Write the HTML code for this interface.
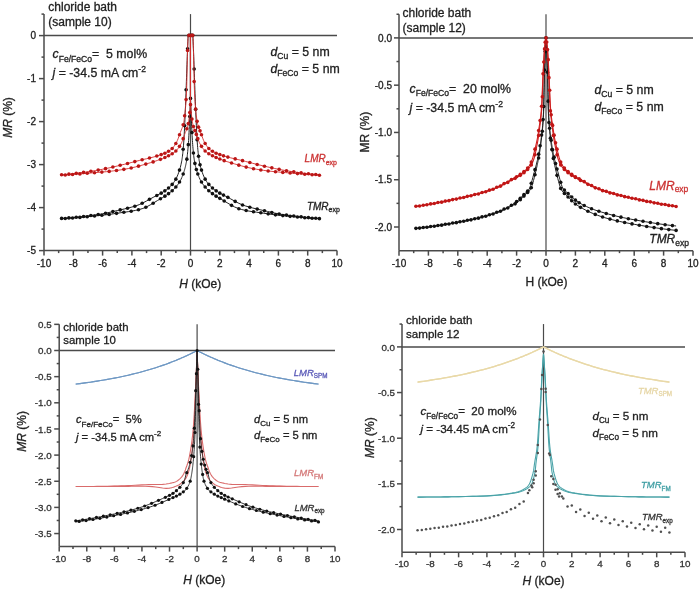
<!DOCTYPE html>
<html><head><meta charset="utf-8"><style>
html,body{margin:0;padding:0;background:#fff;width:700px;height:589px;overflow:hidden}
svg{display:block;font-family:"Liberation Sans", sans-serif;filter:blur(0.35px)}
</style></head><body>
<svg width="700" height="589" viewBox="0 0 700 589">
<rect width="700" height="589" fill="#fff"/>
<g stroke="#4a4a4a" stroke-width="1.5" fill="none"><line x1="44" y1="14.1" x2="44" y2="250.6"/><line x1="44" y1="250.6" x2="337" y2="250.6"/><line x1="44" y1="35.6" x2="337" y2="35.6"/><line x1="190.5" y1="14.1" x2="190.5" y2="250.6" stroke-width="1.2"/><line x1="39" y1="35.6" x2="44" y2="35.6"/><line x1="39" y1="78.6" x2="44" y2="78.6"/><line x1="39" y1="121.6" x2="44" y2="121.6"/><line x1="39" y1="164.6" x2="44" y2="164.6"/><line x1="39" y1="207.6" x2="44" y2="207.6"/><line x1="39" y1="250.6" x2="44" y2="250.6"/><line x1="41.5" y1="14.1" x2="44" y2="14.1"/><line x1="41.5" y1="57.1" x2="44" y2="57.1"/><line x1="41.5" y1="100.1" x2="44" y2="100.1"/><line x1="41.5" y1="143.1" x2="44" y2="143.1"/><line x1="41.5" y1="186.1" x2="44" y2="186.1"/><line x1="41.5" y1="229.1" x2="44" y2="229.1"/><line x1="44" y1="250.6" x2="44" y2="255.6"/><line x1="73.3" y1="250.6" x2="73.3" y2="255.6"/><line x1="102.6" y1="250.6" x2="102.6" y2="255.6"/><line x1="131.9" y1="250.6" x2="131.9" y2="255.6"/><line x1="161.2" y1="250.6" x2="161.2" y2="255.6"/><line x1="190.5" y1="250.6" x2="190.5" y2="255.6"/><line x1="219.8" y1="250.6" x2="219.8" y2="255.6"/><line x1="249.1" y1="250.6" x2="249.1" y2="255.6"/><line x1="278.4" y1="250.6" x2="278.4" y2="255.6"/><line x1="307.7" y1="250.6" x2="307.7" y2="255.6"/><line x1="337" y1="250.6" x2="337" y2="255.6"/><line x1="58.65" y1="250.6" x2="58.65" y2="253.1"/><line x1="87.95" y1="250.6" x2="87.95" y2="253.1"/><line x1="117.25" y1="250.6" x2="117.25" y2="253.1"/><line x1="146.55" y1="250.6" x2="146.55" y2="253.1"/><line x1="175.85" y1="250.6" x2="175.85" y2="253.1"/><line x1="205.15" y1="250.6" x2="205.15" y2="253.1"/><line x1="234.45" y1="250.6" x2="234.45" y2="253.1"/><line x1="263.75" y1="250.6" x2="263.75" y2="253.1"/><line x1="293.05" y1="250.6" x2="293.05" y2="253.1"/><line x1="322.35" y1="250.6" x2="322.35" y2="253.1"/></g><g fill="#222" font-size="10" stroke="#222" stroke-width="0.3"><text x="36" y="39.2" text-anchor="end">0</text><text x="36" y="82.2" text-anchor="end">-1</text><text x="36" y="125.2" text-anchor="end">-2</text><text x="36" y="168.2" text-anchor="end">-3</text><text x="36" y="211.2" text-anchor="end">-4</text><text x="36" y="254.2" text-anchor="end">-5</text><text x="44" y="266.6" text-anchor="middle">-10</text><text x="73.3" y="266.6" text-anchor="middle">-8</text><text x="102.6" y="266.6" text-anchor="middle">-6</text><text x="131.9" y="266.6" text-anchor="middle">-4</text><text x="161.2" y="266.6" text-anchor="middle">-2</text><text x="190.5" y="266.6" text-anchor="middle">0</text><text x="219.8" y="266.6" text-anchor="middle">2</text><text x="249.1" y="266.6" text-anchor="middle">4</text><text x="278.4" y="266.6" text-anchor="middle">6</text><text x="307.7" y="266.6" text-anchor="middle">8</text><text x="337" y="266.6" text-anchor="middle">10</text></g><path d="M61.58,218.42 L62.31,218.38 L65.97,218.13 L69.64,217.85 L73.30,217.53 L76.96,217.18 L80.62,216.79 L84.29,216.38 L87.95,215.94 L91.61,215.47 L95.28,214.98 L98.94,214.45 L102.60,213.81 L106.26,213.08 L109.92,212.27 L113.59,211.43 L117.25,210.58 L120.91,209.75 L124.58,208.90 L128.24,208.01 L131.90,207.04 L135.56,205.95 L139.22,204.65 L142.89,202.95 L146.55,200.99 L150.21,198.94 L153.88,196.96 L157.54,195.09 L161.20,193.13 L161.93,192.71 L162.66,192.27 L163.40,191.82 L164.13,191.35 L164.86,190.86 L165.59,190.35 L166.33,189.82 L167.06,189.27 L167.79,188.69 L168.53,188.07 L169.26,187.43 L169.99,186.74 L170.72,186.02 L171.45,185.24 L172.19,184.41 L172.92,183.52 L173.65,182.57 L174.38,181.55 L175.12,180.44 L175.85,179.15 L176.58,177.69 L177.31,176.05 L178.05,174.24 L178.78,172.26 L179.51,170.11 L180.25,167.65 L180.98,164.71 L181.71,161.12 L181.86,160.31 L182.00,159.43 L182.15,158.46 L182.30,157.40 L182.44,156.25 L182.59,155.02 L182.74,153.69 L182.88,152.29 L183.03,150.79 L183.18,149.22 L183.32,147.57 L183.47,145.83 L183.61,144.02 L183.76,142.04 L183.91,139.80 L184.05,137.34 L184.20,134.68 L184.35,131.85 L184.49,128.86 L184.64,125.76 L184.79,122.57 L184.93,119.30 L185.08,116.00 L185.23,112.68 L185.37,109.24 L185.52,105.61 L185.67,101.81 L185.81,97.87 L185.96,93.82 L186.10,89.70 L186.25,85.54 L186.40,81.38 L186.54,77.24 L186.69,73.15 L186.84,69.02 L186.98,64.78 L187.13,60.55 L187.28,56.43 L187.42,52.53 L187.57,48.84 L187.72,45.27 L187.86,41.82 L188.01,38.51 L188.16,35.35 L188.30,35.35 L188.45,35.35 L188.60,35.35 L188.74,35.36 L188.89,35.36 L189.04,35.36 L189.18,35.37 L189.33,35.37 L189.47,35.37 L189.62,35.38 L189.77,35.38 L189.91,35.38 L190.06,35.38 L190.21,35.39 L190.35,35.39 L190.50,98.38 L190.65,102.33 L190.79,106.14 L190.94,109.78 L191.09,113.22 L191.23,116.55 L191.38,119.86 L191.53,123.13 L191.67,126.33 L191.82,129.44 L191.96,132.43 L192.11,135.27 L192.26,137.94 L192.40,140.41 L192.55,142.65 L192.70,144.64 L192.84,146.46 L192.99,148.20 L193.14,149.86 L193.28,151.44 L193.43,152.94 L193.58,154.36 L193.72,155.69 L193.87,156.94 L194.02,158.09 L194.16,159.16 L194.31,160.14 L194.46,161.02 L194.60,161.84 L194.75,162.63 L194.90,163.39 L195.04,164.11 L195.19,164.81 L195.33,165.48 L195.48,166.12 L195.63,166.74 L195.77,167.33 L195.92,167.91 L196.07,168.46 L196.21,168.99 L196.36,169.51 L196.51,170.01 L196.65,170.49 L196.80,170.96 L196.95,171.42 L197.09,171.87 L197.24,172.31 L197.39,172.74 L197.53,173.16 L197.68,173.58 L197.82,173.99 L197.97,174.40 L198.12,174.79 L198.26,175.19 L198.41,175.57 L198.56,175.95 L198.70,176.32 L198.85,176.69 L199.00,177.05 L199.14,177.40 L199.29,177.74 L200.02,179.36 L200.75,180.81 L201.49,182.07 L202.22,183.19 L202.95,184.24 L203.69,185.22 L204.42,186.15 L205.15,187.02 L205.88,187.84 L206.62,188.61 L207.35,189.34 L208.08,190.03 L208.81,190.70 L209.55,191.33 L210.28,191.95 L211.01,192.53 L211.74,193.10 L212.47,193.65 L213.21,194.18 L213.94,194.69 L214.67,195.18 L215.41,195.66 L216.14,196.13 L216.87,196.59 L217.60,197.04 L218.34,197.48 L219.07,197.92 L219.80,198.35 L223.46,200.51 L227.12,202.74 L230.79,204.92 L234.45,206.88 L238.11,208.45 L241.78,209.54 L245.44,210.40 L249.10,211.10 L252.76,211.68 L256.43,212.20 L260.09,212.70 L263.75,213.23 L267.41,213.77 L271.07,214.29 L274.74,214.77 L278.40,215.18 L282.06,215.53 L285.73,215.90 L289.39,216.27 L293.05,216.64 L296.71,217.00 L300.38,217.34 L304.04,217.66 L307.70,217.96 L311.36,218.22 L315.02,218.44 L318.69,218.63 L319.42,218.66" fill="none" stroke="#222" stroke-width="1.0" stroke-opacity="1.0" stroke-linejoin="round"/><path d="M61.58,218.66 L62.31,218.63 L65.97,218.44 L69.64,218.22 L73.30,217.96 L76.96,217.66 L80.62,217.34 L84.29,217.00 L87.95,216.64 L91.61,216.27 L95.28,215.90 L98.94,215.53 L102.60,215.18 L106.26,214.77 L109.92,214.29 L113.59,213.77 L117.25,213.23 L120.91,212.70 L124.58,212.20 L128.24,211.68 L131.90,211.10 L135.56,210.40 L139.22,209.54 L142.89,208.45 L146.55,206.88 L150.21,204.92 L153.88,202.74 L157.54,200.51 L161.20,198.35 L161.93,197.92 L162.66,197.48 L163.40,197.04 L164.13,196.59 L164.86,196.13 L165.59,195.66 L166.33,195.18 L167.06,194.69 L167.79,194.18 L168.53,193.65 L169.26,193.10 L169.99,192.53 L170.72,191.95 L171.45,191.33 L172.19,190.70 L172.92,190.03 L173.65,189.34 L174.38,188.61 L175.12,187.84 L175.85,187.02 L176.58,186.15 L177.31,185.22 L178.05,184.24 L178.78,183.19 L179.51,182.07 L180.25,180.81 L180.98,179.36 L181.71,177.74 L181.86,177.40 L182.00,177.05 L182.15,176.69 L182.30,176.32 L182.44,175.95 L182.59,175.57 L182.74,175.19 L182.88,174.79 L183.03,174.40 L183.18,173.99 L183.32,173.58 L183.47,173.16 L183.61,172.74 L183.76,172.31 L183.91,171.87 L184.05,171.42 L184.20,170.96 L184.35,170.49 L184.49,170.01 L184.64,169.51 L184.79,168.99 L184.93,168.46 L185.08,167.91 L185.23,167.33 L185.37,166.74 L185.52,166.12 L185.67,165.48 L185.81,164.81 L185.96,164.11 L186.10,163.39 L186.25,162.63 L186.40,161.84 L186.54,161.02 L186.69,160.14 L186.84,159.16 L186.98,158.09 L187.13,156.94 L187.28,155.69 L187.42,154.36 L187.57,152.94 L187.72,151.44 L187.86,149.86 L188.01,148.20 L188.16,146.46 L188.30,144.64 L188.45,142.65 L188.60,140.41 L188.74,137.94 L188.89,135.27 L189.04,132.43 L189.18,129.44 L189.33,126.33 L189.47,123.13 L189.62,119.86 L189.77,116.55 L189.91,113.22 L190.06,109.78 L190.21,106.14 L190.35,102.33 L190.50,35.39 L190.65,35.39 L190.79,35.39 L190.94,35.38 L191.09,35.38 L191.23,35.38 L191.38,35.38 L191.53,35.37 L191.67,35.37 L191.82,35.37 L191.96,35.36 L192.11,35.36 L192.26,35.36 L192.40,35.35 L192.55,35.35 L192.70,35.35 L192.84,35.35 L192.99,38.51 L193.14,41.82 L193.28,45.27 L193.43,48.84 L193.58,52.53 L193.72,56.43 L193.87,60.55 L194.02,64.78 L194.16,69.02 L194.31,73.15 L194.46,77.24 L194.60,81.38 L194.75,85.54 L194.90,89.70 L195.04,93.82 L195.19,97.87 L195.33,101.81 L195.48,105.61 L195.63,109.24 L195.77,112.68 L195.92,116.00 L196.07,119.30 L196.21,122.57 L196.36,125.76 L196.51,128.86 L196.65,131.85 L196.80,134.68 L196.95,137.34 L197.09,139.80 L197.24,142.04 L197.39,144.02 L197.53,145.83 L197.68,147.57 L197.82,149.22 L197.97,150.79 L198.12,152.29 L198.26,153.69 L198.41,155.02 L198.56,156.25 L198.70,157.40 L198.85,158.46 L199.00,159.43 L199.14,160.31 L199.29,161.12 L200.02,164.71 L200.75,167.65 L201.49,170.11 L202.22,172.26 L202.95,174.24 L203.69,176.05 L204.42,177.69 L205.15,179.15 L205.88,180.44 L206.62,181.55 L207.35,182.57 L208.08,183.52 L208.81,184.41 L209.55,185.24 L210.28,186.02 L211.01,186.74 L211.74,187.43 L212.47,188.07 L213.21,188.69 L213.94,189.27 L214.67,189.82 L215.41,190.35 L216.14,190.86 L216.87,191.35 L217.60,191.82 L218.34,192.27 L219.07,192.71 L219.80,193.13 L223.46,195.09 L227.12,196.96 L230.79,198.94 L234.45,200.99 L238.11,202.95 L241.78,204.65 L245.44,205.95 L249.10,207.04 L252.76,208.01 L256.43,208.90 L260.09,209.75 L263.75,210.58 L267.41,211.43 L271.07,212.27 L274.74,213.08 L278.40,213.81 L282.06,214.45 L285.73,214.98 L289.39,215.47 L293.05,215.94 L296.71,216.38 L300.38,216.79 L304.04,217.18 L307.70,217.53 L311.36,217.85 L315.02,218.13 L318.69,218.38 L319.42,218.42" fill="none" stroke="#222" stroke-width="1.0" stroke-opacity="1.0" stroke-linejoin="round"/><g fill="#111"><circle cx="61.58" cy="218.42" r="1.8"/><circle cx="68.90" cy="217.91" r="1.8"/><circle cx="76.23" cy="217.25" r="1.8"/><circle cx="83.56" cy="216.46" r="1.8"/><circle cx="90.88" cy="215.57" r="1.8"/><circle cx="98.21" cy="214.56" r="1.8"/><circle cx="105.53" cy="213.23" r="1.8"/><circle cx="112.86" cy="211.60" r="1.8"/><circle cx="120.18" cy="209.92" r="1.8"/><circle cx="127.51" cy="208.19" r="1.8"/><circle cx="134.83" cy="206.18" r="1.8"/><circle cx="142.16" cy="203.31" r="1.8"/><circle cx="149.48" cy="199.35" r="1.8"/><circle cx="156.81" cy="195.46" r="1.8"/><circle cx="161.20" cy="193.13" r="1.8"/><circle cx="164.86" cy="190.86" r="1.8"/><circle cx="168.53" cy="188.07" r="1.8"/><circle cx="172.19" cy="184.41" r="1.8"/><circle cx="175.85" cy="179.15" r="1.8"/><circle cx="179.51" cy="170.11" r="1.8"/><circle cx="183.18" cy="149.22" r="1.8"/><circle cx="184.64" cy="125.76" r="1.8"/><circle cx="186.10" cy="89.70" r="1.8"/><circle cx="187.57" cy="48.84" r="1.8"/><circle cx="189.04" cy="35.36" r="1.8"/><circle cx="190.50" cy="98.38" r="1.8"/><circle cx="191.96" cy="132.43" r="1.8"/><circle cx="193.43" cy="152.94" r="1.8"/><circle cx="194.90" cy="163.39" r="1.8"/><circle cx="196.36" cy="169.51" r="1.8"/><circle cx="197.82" cy="173.99" r="1.8"/><circle cx="201.49" cy="182.07" r="1.8"/><circle cx="205.15" cy="187.02" r="1.8"/><circle cx="208.81" cy="190.70" r="1.8"/><circle cx="212.47" cy="193.65" r="1.8"/><circle cx="216.14" cy="196.13" r="1.8"/><circle cx="219.80" cy="198.35" r="1.8"/><circle cx="224.19" cy="200.95" r="1.8"/><circle cx="231.52" cy="205.33" r="1.8"/><circle cx="238.84" cy="208.70" r="1.8"/><circle cx="246.17" cy="210.56" r="1.8"/><circle cx="253.50" cy="211.79" r="1.8"/><circle cx="260.82" cy="212.80" r="1.8"/><circle cx="268.15" cy="213.87" r="1.8"/><circle cx="275.47" cy="214.86" r="1.8"/><circle cx="282.80" cy="215.61" r="1.8"/><circle cx="290.12" cy="216.34" r="1.8"/><circle cx="297.45" cy="217.07" r="1.8"/><circle cx="304.77" cy="217.72" r="1.8"/><circle cx="312.10" cy="218.27" r="1.8"/><circle cx="319.42" cy="218.66" r="1.8"/></g><g fill="#111"><circle cx="65.24" cy="218.48" r="1.8"/><circle cx="72.57" cy="218.01" r="1.8"/><circle cx="79.89" cy="217.41" r="1.8"/><circle cx="87.22" cy="216.71" r="1.8"/><circle cx="94.54" cy="215.97" r="1.8"/><circle cx="101.87" cy="215.25" r="1.8"/><circle cx="109.19" cy="214.39" r="1.8"/><circle cx="116.52" cy="213.34" r="1.8"/><circle cx="123.84" cy="212.30" r="1.8"/><circle cx="131.17" cy="211.23" r="1.8"/><circle cx="138.49" cy="209.73" r="1.8"/><circle cx="145.82" cy="207.23" r="1.8"/><circle cx="153.14" cy="203.18" r="1.8"/><circle cx="160.47" cy="198.78" r="1.8"/><circle cx="164.86" cy="196.13" r="1.8"/><circle cx="168.53" cy="193.65" r="1.8"/><circle cx="172.19" cy="190.70" r="1.8"/><circle cx="175.85" cy="187.02" r="1.8"/><circle cx="179.51" cy="182.07" r="1.8"/><circle cx="183.18" cy="173.99" r="1.8"/><circle cx="186.84" cy="159.16" r="1.8"/><circle cx="188.30" cy="144.64" r="1.8"/><circle cx="189.77" cy="116.55" r="1.8"/><circle cx="191.23" cy="35.38" r="1.8"/><circle cx="192.70" cy="35.35" r="1.8"/><circle cx="194.16" cy="69.02" r="1.8"/><circle cx="195.63" cy="109.24" r="1.8"/><circle cx="197.09" cy="139.80" r="1.8"/><circle cx="198.56" cy="156.25" r="1.8"/><circle cx="200.02" cy="164.71" r="1.8"/><circle cx="201.49" cy="170.11" r="1.8"/><circle cx="205.15" cy="179.15" r="1.8"/><circle cx="208.81" cy="184.41" r="1.8"/><circle cx="212.47" cy="188.07" r="1.8"/><circle cx="216.14" cy="190.86" r="1.8"/><circle cx="219.80" cy="193.13" r="1.8"/><circle cx="223.46" cy="195.09" r="1.8"/><circle cx="227.86" cy="197.34" r="1.8"/><circle cx="235.18" cy="201.39" r="1.8"/><circle cx="242.51" cy="204.94" r="1.8"/><circle cx="249.83" cy="207.24" r="1.8"/><circle cx="257.16" cy="209.08" r="1.8"/><circle cx="264.48" cy="210.75" r="1.8"/><circle cx="271.81" cy="212.44" r="1.8"/><circle cx="279.13" cy="213.95" r="1.8"/><circle cx="286.46" cy="215.08" r="1.8"/><circle cx="293.78" cy="216.03" r="1.8"/><circle cx="301.11" cy="216.87" r="1.8"/><circle cx="308.43" cy="217.60" r="1.8"/><circle cx="315.76" cy="218.19" r="1.8"/></g><path d="M61.58,174.79 L62.31,174.73 L65.97,174.42 L69.64,174.07 L73.30,173.68 L76.96,173.25 L80.62,172.78 L84.29,172.28 L87.95,171.75 L91.61,171.18 L95.28,170.58 L98.94,169.95 L102.60,169.26 L106.26,168.51 L109.92,167.71 L113.59,166.87 L117.25,166.01 L120.91,165.14 L124.58,164.25 L128.24,163.33 L131.90,162.38 L135.56,161.42 L139.22,160.48 L142.89,159.59 L146.55,158.73 L150.21,157.86 L153.88,156.91 L157.54,155.84 L161.20,154.62 L161.93,154.36 L162.66,154.09 L163.40,153.81 L164.13,153.52 L164.86,153.20 L165.59,152.87 L166.33,152.52 L167.06,152.15 L167.79,151.75 L168.53,151.32 L169.26,150.86 L169.99,150.37 L170.72,149.84 L171.45,149.22 L172.19,148.50 L172.92,147.68 L173.65,146.75 L174.38,145.74 L175.12,144.64 L175.85,143.45 L176.58,142.18 L177.31,140.64 L178.05,138.82 L178.78,136.81 L179.51,134.74 L180.25,132.69 L180.98,130.84 L181.71,129.08 L181.86,128.72 L182.00,128.34 L182.15,127.95 L182.30,127.55 L182.44,127.13 L182.59,126.70 L182.74,126.24 L182.88,125.75 L183.03,125.24 L183.18,124.71 L183.32,124.14 L183.47,123.54 L183.61,122.90 L183.76,122.19 L183.91,121.35 L184.05,120.41 L184.20,119.37 L184.35,118.25 L184.49,117.06 L184.64,115.82 L184.79,114.52 L184.93,113.19 L185.08,111.84 L185.23,110.48 L185.37,109.08 L185.52,107.59 L185.67,105.93 L185.81,104.04 L185.96,101.93 L186.10,99.60 L186.25,96.99 L186.40,94.04 L186.54,90.68 L186.69,86.86 L186.84,81.60 L186.98,74.74 L187.13,67.50 L187.28,61.08 L187.42,55.61 L187.57,50.55 L187.72,46.04 L187.86,42.03 L188.01,38.43 L188.16,35.30 L188.30,35.30 L188.45,35.30 L188.60,35.31 L188.74,35.31 L188.89,35.31 L189.04,35.32 L189.18,35.32 L189.33,35.32 L189.47,35.33 L189.62,35.33 L189.77,35.33 L189.91,35.33 L190.06,35.34 L190.21,35.34 L190.35,35.34 L190.50,104.65 L190.65,106.55 L190.79,108.21 L190.94,109.71 L191.09,111.12 L191.23,112.49 L191.38,113.84 L191.53,115.18 L191.67,116.48 L191.82,117.74 L191.96,118.93 L192.11,120.06 L192.26,121.10 L192.40,122.05 L192.55,122.89 L192.70,123.62 L192.84,124.26 L192.99,124.87 L193.14,125.45 L193.28,125.99 L193.43,126.51 L193.58,127.00 L193.72,127.46 L193.87,127.91 L194.02,128.34 L194.16,128.75 L194.31,129.14 L194.46,129.52 L194.60,129.90 L194.75,130.26 L194.90,130.62 L195.04,130.98 L195.19,131.34 L195.33,131.70 L195.48,132.06 L195.63,132.43 L195.77,132.80 L195.92,133.19 L196.07,133.59 L196.21,134.00 L196.36,134.42 L196.51,134.84 L196.65,135.26 L196.80,135.68 L196.95,136.11 L197.09,136.53 L197.24,136.96 L197.39,137.38 L197.53,137.80 L197.68,138.22 L197.82,138.64 L197.97,139.05 L198.12,139.45 L198.26,139.85 L198.41,140.25 L198.56,140.63 L198.70,141.00 L198.85,141.37 L199.00,141.73 L199.14,142.07 L199.29,142.40 L200.02,143.86 L200.75,145.14 L201.49,146.35 L202.22,147.47 L202.95,148.50 L203.69,149.44 L204.42,150.28 L205.15,151.02 L205.88,151.66 L206.62,152.23 L207.35,152.77 L208.08,153.28 L208.81,153.76 L209.55,154.22 L210.28,154.65 L211.01,155.06 L211.74,155.45 L212.47,155.82 L213.21,156.18 L213.94,156.53 L214.67,156.86 L215.41,157.19 L216.14,157.51 L216.87,157.83 L217.60,158.14 L218.34,158.45 L219.07,158.75 L219.80,159.05 L223.46,160.41 L227.12,161.64 L230.79,162.78 L234.45,163.87 L238.11,164.93 L241.78,165.96 L245.44,166.92 L249.10,167.79 L252.76,168.56 L256.43,169.22 L260.09,169.83 L263.75,170.37 L267.41,170.87 L271.07,171.30 L274.74,171.69 L278.40,172.02 L282.06,172.33 L285.73,172.63 L289.39,172.93 L293.05,173.24 L296.71,173.55 L300.38,173.85 L304.04,174.15 L307.70,174.43 L311.36,174.70 L315.02,174.95 L318.69,175.17 L319.42,175.21" fill="none" stroke="#d83030" stroke-width="0.9" stroke-opacity="1.0" stroke-linejoin="round"/><path d="M61.58,175.21 L62.31,175.17 L65.97,174.95 L69.64,174.70 L73.30,174.43 L76.96,174.15 L80.62,173.85 L84.29,173.55 L87.95,173.24 L91.61,172.93 L95.28,172.63 L98.94,172.33 L102.60,172.02 L106.26,171.69 L109.92,171.30 L113.59,170.87 L117.25,170.37 L120.91,169.83 L124.58,169.22 L128.24,168.56 L131.90,167.79 L135.56,166.92 L139.22,165.96 L142.89,164.93 L146.55,163.87 L150.21,162.78 L153.88,161.64 L157.54,160.41 L161.20,159.05 L161.93,158.75 L162.66,158.45 L163.40,158.14 L164.13,157.83 L164.86,157.51 L165.59,157.19 L166.33,156.86 L167.06,156.53 L167.79,156.18 L168.53,155.82 L169.26,155.45 L169.99,155.06 L170.72,154.65 L171.45,154.22 L172.19,153.76 L172.92,153.28 L173.65,152.77 L174.38,152.23 L175.12,151.66 L175.85,151.02 L176.58,150.28 L177.31,149.44 L178.05,148.50 L178.78,147.47 L179.51,146.35 L180.25,145.14 L180.98,143.86 L181.71,142.40 L181.86,142.07 L182.00,141.73 L182.15,141.37 L182.30,141.00 L182.44,140.63 L182.59,140.25 L182.74,139.85 L182.88,139.45 L183.03,139.05 L183.18,138.64 L183.32,138.22 L183.47,137.80 L183.61,137.38 L183.76,136.96 L183.91,136.53 L184.05,136.11 L184.20,135.68 L184.35,135.26 L184.49,134.84 L184.64,134.42 L184.79,134.00 L184.93,133.59 L185.08,133.19 L185.23,132.80 L185.37,132.43 L185.52,132.06 L185.67,131.70 L185.81,131.34 L185.96,130.98 L186.10,130.62 L186.25,130.26 L186.40,129.90 L186.54,129.52 L186.69,129.14 L186.84,128.75 L186.98,128.34 L187.13,127.91 L187.28,127.46 L187.42,127.00 L187.57,126.51 L187.72,125.99 L187.86,125.45 L188.01,124.87 L188.16,124.26 L188.30,123.62 L188.45,122.89 L188.60,122.05 L188.74,121.10 L188.89,120.06 L189.04,118.93 L189.18,117.74 L189.33,116.48 L189.47,115.18 L189.62,113.84 L189.77,112.49 L189.91,111.12 L190.06,109.71 L190.21,108.21 L190.35,106.55 L190.50,35.35 L190.65,35.34 L190.79,35.34 L190.94,35.34 L191.09,35.33 L191.23,35.33 L191.38,35.33 L191.53,35.33 L191.67,35.32 L191.82,35.32 L191.96,35.32 L192.11,35.31 L192.26,35.31 L192.40,35.31 L192.55,35.30 L192.70,35.30 L192.84,35.30 L192.99,38.43 L193.14,42.03 L193.28,46.04 L193.43,50.55 L193.58,55.61 L193.72,61.08 L193.87,67.50 L194.02,74.74 L194.16,81.60 L194.31,86.86 L194.46,90.68 L194.60,94.04 L194.75,96.99 L194.90,99.60 L195.04,101.93 L195.19,104.04 L195.33,105.93 L195.48,107.59 L195.63,109.08 L195.77,110.48 L195.92,111.84 L196.07,113.19 L196.21,114.52 L196.36,115.82 L196.51,117.06 L196.65,118.25 L196.80,119.37 L196.95,120.41 L197.09,121.35 L197.24,122.19 L197.39,122.90 L197.53,123.54 L197.68,124.14 L197.82,124.71 L197.97,125.24 L198.12,125.75 L198.26,126.24 L198.41,126.70 L198.56,127.13 L198.70,127.55 L198.85,127.95 L199.00,128.34 L199.14,128.72 L199.29,129.08 L200.02,130.84 L200.75,132.69 L201.49,134.74 L202.22,136.81 L202.95,138.82 L203.69,140.64 L204.42,142.18 L205.15,143.45 L205.88,144.64 L206.62,145.74 L207.35,146.75 L208.08,147.68 L208.81,148.50 L209.55,149.22 L210.28,149.84 L211.01,150.37 L211.74,150.86 L212.47,151.32 L213.21,151.75 L213.94,152.15 L214.67,152.52 L215.41,152.87 L216.14,153.20 L216.87,153.52 L217.60,153.81 L218.34,154.09 L219.07,154.36 L219.80,154.62 L223.46,155.84 L227.12,156.91 L230.79,157.86 L234.45,158.73 L238.11,159.59 L241.78,160.48 L245.44,161.42 L249.10,162.38 L252.76,163.33 L256.43,164.25 L260.09,165.14 L263.75,166.01 L267.41,166.87 L271.07,167.71 L274.74,168.51 L278.40,169.26 L282.06,169.95 L285.73,170.58 L289.39,171.18 L293.05,171.75 L296.71,172.28 L300.38,172.78 L304.04,173.25 L307.70,173.68 L311.36,174.07 L315.02,174.42 L318.69,174.73 L319.42,174.79" fill="none" stroke="#d83030" stroke-width="0.9" stroke-opacity="1.0" stroke-linejoin="round"/><g fill="#bb1616"><circle cx="61.58" cy="174.79" r="1.8"/><circle cx="68.90" cy="174.14" r="1.8"/><circle cx="76.23" cy="173.34" r="1.8"/><circle cx="83.56" cy="172.38" r="1.8"/><circle cx="90.88" cy="171.29" r="1.8"/><circle cx="98.21" cy="170.08" r="1.8"/><circle cx="105.53" cy="168.67" r="1.8"/><circle cx="112.86" cy="167.04" r="1.8"/><circle cx="120.18" cy="165.31" r="1.8"/><circle cx="127.51" cy="163.52" r="1.8"/><circle cx="134.83" cy="161.61" r="1.8"/><circle cx="142.16" cy="159.76" r="1.8"/><circle cx="149.48" cy="158.03" r="1.8"/><circle cx="156.81" cy="156.07" r="1.8"/><circle cx="161.20" cy="154.62" r="1.8"/><circle cx="164.86" cy="153.20" r="1.8"/><circle cx="168.53" cy="151.32" r="1.8"/><circle cx="172.19" cy="148.50" r="1.8"/><circle cx="175.85" cy="143.45" r="1.8"/><circle cx="179.51" cy="134.74" r="1.8"/><circle cx="183.18" cy="124.71" r="1.8"/><circle cx="184.64" cy="115.82" r="1.8"/><circle cx="186.10" cy="99.60" r="1.8"/><circle cx="187.57" cy="50.55" r="1.8"/><circle cx="189.04" cy="35.32" r="1.8"/><circle cx="190.50" cy="104.65" r="1.8"/><circle cx="191.96" cy="118.93" r="1.8"/><circle cx="193.43" cy="126.51" r="1.8"/><circle cx="194.90" cy="130.62" r="1.8"/><circle cx="196.36" cy="134.42" r="1.8"/><circle cx="197.82" cy="138.64" r="1.8"/><circle cx="201.49" cy="146.35" r="1.8"/><circle cx="205.15" cy="151.02" r="1.8"/><circle cx="208.81" cy="153.76" r="1.8"/><circle cx="212.47" cy="155.82" r="1.8"/><circle cx="216.14" cy="157.51" r="1.8"/><circle cx="219.80" cy="159.05" r="1.8"/><circle cx="224.19" cy="160.67" r="1.8"/><circle cx="231.52" cy="163.00" r="1.8"/><circle cx="238.84" cy="165.14" r="1.8"/><circle cx="246.17" cy="167.10" r="1.8"/><circle cx="253.50" cy="168.70" r="1.8"/><circle cx="260.82" cy="169.94" r="1.8"/><circle cx="268.15" cy="170.96" r="1.8"/><circle cx="275.47" cy="171.76" r="1.8"/><circle cx="282.80" cy="172.39" r="1.8"/><circle cx="290.12" cy="173.00" r="1.8"/><circle cx="297.45" cy="173.61" r="1.8"/><circle cx="304.77" cy="174.21" r="1.8"/><circle cx="312.10" cy="174.75" r="1.8"/><circle cx="319.42" cy="175.21" r="1.8"/></g><g fill="#bb1616"><circle cx="65.24" cy="174.99" r="1.8"/><circle cx="72.57" cy="174.49" r="1.8"/><circle cx="79.89" cy="173.91" r="1.8"/><circle cx="87.22" cy="173.30" r="1.8"/><circle cx="94.54" cy="172.69" r="1.8"/><circle cx="101.87" cy="172.09" r="1.8"/><circle cx="109.19" cy="171.39" r="1.8"/><circle cx="116.52" cy="170.48" r="1.8"/><circle cx="123.84" cy="169.35" r="1.8"/><circle cx="131.17" cy="167.96" r="1.8"/><circle cx="138.49" cy="166.16" r="1.8"/><circle cx="145.82" cy="164.08" r="1.8"/><circle cx="153.14" cy="161.88" r="1.8"/><circle cx="160.47" cy="159.33" r="1.8"/><circle cx="164.86" cy="157.51" r="1.8"/><circle cx="168.53" cy="155.82" r="1.8"/><circle cx="172.19" cy="153.76" r="1.8"/><circle cx="175.85" cy="151.02" r="1.8"/><circle cx="179.51" cy="146.35" r="1.8"/><circle cx="183.18" cy="138.64" r="1.8"/><circle cx="186.84" cy="128.75" r="1.8"/><circle cx="188.30" cy="123.62" r="1.8"/><circle cx="189.77" cy="112.49" r="1.8"/><circle cx="191.23" cy="35.33" r="1.8"/><circle cx="192.70" cy="35.30" r="1.8"/><circle cx="194.16" cy="81.60" r="1.8"/><circle cx="195.63" cy="109.08" r="1.8"/><circle cx="197.09" cy="121.35" r="1.8"/><circle cx="198.56" cy="127.13" r="1.8"/><circle cx="200.02" cy="130.84" r="1.8"/><circle cx="201.49" cy="134.74" r="1.8"/><circle cx="205.15" cy="143.45" r="1.8"/><circle cx="208.81" cy="148.50" r="1.8"/><circle cx="212.47" cy="151.32" r="1.8"/><circle cx="216.14" cy="153.20" r="1.8"/><circle cx="219.80" cy="154.62" r="1.8"/><circle cx="223.46" cy="155.84" r="1.8"/><circle cx="227.86" cy="157.11" r="1.8"/><circle cx="235.18" cy="158.90" r="1.8"/><circle cx="242.51" cy="160.67" r="1.8"/><circle cx="249.83" cy="162.57" r="1.8"/><circle cx="257.16" cy="164.43" r="1.8"/><circle cx="264.48" cy="166.18" r="1.8"/><circle cx="271.81" cy="167.87" r="1.8"/><circle cx="279.13" cy="169.41" r="1.8"/><circle cx="286.46" cy="170.70" r="1.8"/><circle cx="293.78" cy="171.86" r="1.8"/><circle cx="301.11" cy="172.88" r="1.8"/><circle cx="308.43" cy="173.76" r="1.8"/><circle cx="315.76" cy="174.49" r="1.8"/></g><text x="48.3" y="10.7" font-size="12" fill="#222" stroke="#222" stroke-width="0.3">chloride bath</text><text x="48.3" y="25.7" font-size="12" fill="#222" stroke="#222" stroke-width="0.3">(sample 10)</text><text transform="translate(11.8,117.5) rotate(-90)" font-size="12" fill="#222" text-anchor="middle" stroke="#222" stroke-width="0.3"><tspan font-style="italic">MR</tspan> (%)</text><text x="200.3" y="288.3" font-size="12" fill="#222" text-anchor="middle" stroke="#222" stroke-width="0.3"><tspan font-style="italic">H</tspan> (kOe)</text><text x="52.5" y="57.9" font-size="12.3" fill="#222" stroke="#222" stroke-width="0.3"><tspan font-style="italic">c</tspan><tspan font-size="8.6" dy="3.6">Fe/FeCo</tspan><tspan dy="-3.6">=&#160; 5 mol%</tspan></text><text x="52.5" y="77.1" font-size="12.3" fill="#222" stroke="#222" stroke-width="0.3"><tspan font-style="italic">j</tspan> = -34.5 mA cm<tspan font-size="8.6" dy="-5">-2</tspan></text><text x="270.5" y="55.6" font-size="12.3" fill="#222" stroke="#222" stroke-width="0.3"><tspan font-style="italic">d</tspan><tspan font-size="8.6" dy="3">Cu</tspan><tspan dy="-3"> = 5 nm</tspan></text><text x="270.5" y="72.5" font-size="12.3" fill="#222" stroke="#222" stroke-width="0.3"><tspan font-style="italic">d</tspan><tspan font-size="8.6" dy="3">FeCo</tspan><tspan dy="-3"> = 5 nm</tspan></text><text x="304.6" y="162.3" font-size="10" fill="#cc3333" stroke="#cc3333" stroke-width="0.3"><tspan font-style="italic">LMR</tspan><tspan font-size="7" dy="2.5">exp</tspan></text><text x="306.9" y="209.6" font-size="10" fill="#222" stroke="#222" stroke-width="0.3"><tspan font-style="italic">TMR</tspan><tspan font-size="7" dy="2.5">exp</tspan></text><g stroke="#4a4a4a" stroke-width="1.5" fill="none"><line x1="399" y1="14.26" x2="399" y2="250.64"/><line x1="399" y1="250.64" x2="693" y2="250.64"/><line x1="399" y1="37.9" x2="693" y2="37.9"/><line x1="546" y1="14.26" x2="546" y2="250.64" stroke-width="1.2"/><line x1="394" y1="37.9" x2="399" y2="37.9"/><line x1="394" y1="85.17" x2="399" y2="85.17"/><line x1="394" y1="132.45" x2="399" y2="132.45"/><line x1="394" y1="179.72" x2="399" y2="179.72"/><line x1="394" y1="227" x2="399" y2="227"/><line x1="396.5" y1="14.26" x2="399" y2="14.26"/><line x1="396.5" y1="61.54" x2="399" y2="61.54"/><line x1="396.5" y1="108.81" x2="399" y2="108.81"/><line x1="396.5" y1="156.09" x2="399" y2="156.09"/><line x1="396.5" y1="203.36" x2="399" y2="203.36"/><line x1="399" y1="250.64" x2="399" y2="255.64"/><line x1="428.4" y1="250.64" x2="428.4" y2="255.64"/><line x1="457.8" y1="250.64" x2="457.8" y2="255.64"/><line x1="487.2" y1="250.64" x2="487.2" y2="255.64"/><line x1="516.6" y1="250.64" x2="516.6" y2="255.64"/><line x1="546" y1="250.64" x2="546" y2="255.64"/><line x1="575.4" y1="250.64" x2="575.4" y2="255.64"/><line x1="604.8" y1="250.64" x2="604.8" y2="255.64"/><line x1="634.2" y1="250.64" x2="634.2" y2="255.64"/><line x1="663.6" y1="250.64" x2="663.6" y2="255.64"/><line x1="693" y1="250.64" x2="693" y2="255.64"/><line x1="413.7" y1="250.64" x2="413.7" y2="253.14"/><line x1="443.1" y1="250.64" x2="443.1" y2="253.14"/><line x1="472.5" y1="250.64" x2="472.5" y2="253.14"/><line x1="501.9" y1="250.64" x2="501.9" y2="253.14"/><line x1="531.3" y1="250.64" x2="531.3" y2="253.14"/><line x1="560.7" y1="250.64" x2="560.7" y2="253.14"/><line x1="590.1" y1="250.64" x2="590.1" y2="253.14"/><line x1="619.5" y1="250.64" x2="619.5" y2="253.14"/><line x1="648.9" y1="250.64" x2="648.9" y2="253.14"/><line x1="678.3" y1="250.64" x2="678.3" y2="253.14"/></g><g fill="#222" font-size="10" stroke="#222" stroke-width="0.3"><text x="392" y="41.5" text-anchor="end">0.0</text><text x="392" y="88.77" text-anchor="end">-0.5</text><text x="392" y="136.05" text-anchor="end">-1.0</text><text x="392" y="183.32" text-anchor="end">-1.5</text><text x="392" y="230.6" text-anchor="end">-2.0</text><text x="399" y="266.64" text-anchor="middle">-10</text><text x="428.4" y="266.64" text-anchor="middle">-8</text><text x="457.8" y="266.64" text-anchor="middle">-6</text><text x="487.2" y="266.64" text-anchor="middle">-4</text><text x="516.6" y="266.64" text-anchor="middle">-2</text><text x="546" y="266.64" text-anchor="middle">0</text><text x="575.4" y="266.64" text-anchor="middle">2</text><text x="604.8" y="266.64" text-anchor="middle">4</text><text x="634.2" y="266.64" text-anchor="middle">6</text><text x="663.6" y="266.64" text-anchor="middle">8</text><text x="693" y="266.64" text-anchor="middle">10</text></g><path d="M415.91,228.34 L417.38,228.18 L421.05,227.77 L424.73,227.33 L428.40,226.85 L432.07,226.34 L435.75,225.80 L439.43,225.24 L443.10,224.66 L446.77,224.05 L450.45,223.43 L454.12,222.79 L457.80,222.14 L461.48,221.46 L465.15,220.75 L468.82,220.00 L472.50,219.19 L476.18,218.34 L479.85,217.42 L483.52,216.44 L487.20,215.38 L490.88,214.24 L494.55,212.99 L498.23,211.61 L501.90,210.07 L505.57,208.36 L509.25,206.44 L512.92,204.31 L516.60,201.61 L517.34,200.98 L518.07,200.33 L518.80,199.65 L519.54,198.96 L520.27,198.26 L521.01,197.54 L521.75,196.82 L522.48,196.09 L523.22,195.36 L523.95,194.63 L524.68,193.91 L525.42,193.22 L526.15,192.56 L526.89,191.89 L527.62,191.13 L528.36,190.25 L529.10,189.18 L529.83,187.68 L530.57,185.65 L531.30,183.23 L532.03,180.55 L532.77,177.76 L533.50,175.00 L534.24,172.26 L534.98,169.67 L535.71,166.96 L536.44,164.09 L537.18,161.02 L537.33,160.38 L537.47,159.73 L537.62,159.07 L537.77,158.40 L537.91,157.72 L538.06,157.02 L538.21,156.32 L538.36,155.61 L538.50,154.88 L538.65,154.15 L538.80,153.40 L538.94,152.63 L539.09,151.85 L539.24,151.06 L539.38,150.24 L539.53,149.40 L539.68,148.54 L539.83,147.66 L539.97,146.75 L540.12,145.81 L540.27,144.85 L540.41,143.85 L540.56,142.83 L540.71,141.77 L540.86,140.68 L541.00,139.55 L541.15,138.44 L541.30,137.33 L541.44,136.22 L541.59,135.09 L541.74,133.93 L541.88,132.72 L542.03,131.44 L542.18,130.09 L542.33,128.65 L542.47,127.11 L542.62,125.45 L542.77,123.65 L542.91,121.70 L543.06,119.60 L543.21,117.31 L543.35,114.83 L543.50,111.89 L543.65,107.31 L543.80,101.37 L543.94,94.60 L544.09,87.54 L544.24,80.74 L544.38,74.73 L544.53,70.03 L544.68,65.89 L544.82,61.86 L544.97,57.99 L545.12,54.30 L545.26,50.83 L545.41,47.61 L545.56,44.67 L545.71,42.05 L545.85,39.78 L546.00,37.90 L546.15,39.84 L546.29,42.19 L546.44,44.94 L546.59,48.03 L546.74,51.45 L546.88,55.16 L547.03,59.11 L547.18,63.28 L547.32,67.62 L547.47,72.14 L547.62,77.92 L547.76,84.94 L547.91,92.53 L548.06,100.00 L548.20,106.67 L548.35,111.84 L548.50,115.10 L548.65,117.80 L548.79,120.29 L548.94,122.56 L549.09,124.65 L549.23,126.57 L549.38,128.34 L549.53,129.98 L549.67,131.51 L549.82,132.94 L549.97,134.30 L550.12,135.61 L550.26,136.87 L550.41,138.13 L550.56,139.38 L550.70,140.65 L550.85,141.91 L551.00,143.12 L551.14,144.29 L551.29,145.42 L551.44,146.51 L551.59,147.57 L551.73,148.60 L551.88,149.60 L552.03,150.57 L552.17,151.52 L552.32,152.44 L552.47,153.34 L552.62,154.22 L552.76,155.08 L552.91,155.93 L553.06,156.77 L553.20,157.59 L553.35,158.39 L553.50,159.19 L553.64,159.97 L553.79,160.74 L553.94,161.50 L554.09,162.24 L554.23,162.98 L554.38,163.70 L554.53,164.42 L554.67,165.12 L554.82,165.81 L555.56,169.15 L556.29,172.31 L557.02,175.33 L557.76,178.37 L558.50,181.19 L559.23,183.89 L559.97,186.34 L560.70,188.40 L561.43,189.92 L562.17,191.02 L562.90,191.93 L563.64,192.70 L564.38,193.40 L565.11,194.08 L565.85,194.79 L566.58,195.54 L567.32,196.29 L568.05,197.04 L568.79,197.80 L569.52,198.54 L570.25,199.28 L570.99,200.00 L571.73,200.71 L572.46,201.41 L573.20,202.08 L573.93,202.73 L574.66,203.36 L575.40,203.95 L579.08,206.45 L582.75,208.59 L586.42,210.52 L590.10,212.25 L593.77,213.82 L597.45,215.23 L601.12,216.52 L604.80,217.70 L608.48,218.73 L612.15,219.68 L615.83,220.58 L619.50,221.41 L623.17,222.19 L626.85,222.93 L630.52,223.63 L634.20,224.29 L637.88,224.94 L641.55,225.57 L645.23,226.19 L648.90,226.79 L652.58,227.36 L656.25,227.91 L659.92,228.44 L663.60,228.93 L667.27,229.40 L670.95,229.83 L674.62,230.23 L676.10,230.38" fill="none" stroke="#222" stroke-width="1.0" stroke-opacity="1.0" stroke-linejoin="round"/><path d="M415.91,228.48 L417.38,228.34 L421.05,227.94 L424.73,227.51 L428.40,227.04 L432.07,226.55 L435.75,226.02 L439.43,225.47 L443.10,224.90 L446.77,224.30 L450.45,223.68 L454.12,223.05 L457.80,222.40 L461.48,221.74 L465.15,221.04 L468.82,220.30 L472.50,219.52 L476.18,218.69 L479.85,217.79 L483.52,216.84 L487.20,215.81 L490.88,214.71 L494.55,213.51 L498.23,212.18 L501.90,210.71 L505.57,209.07 L509.25,207.23 L512.92,205.19 L516.60,202.79 L517.34,202.21 L518.07,201.61 L518.80,200.98 L519.54,200.33 L520.27,199.65 L521.01,198.96 L521.75,198.26 L522.48,197.54 L523.22,196.82 L523.95,196.09 L524.68,195.36 L525.42,194.63 L526.15,193.91 L526.89,193.22 L527.62,192.56 L528.36,191.89 L529.10,191.13 L529.83,190.25 L530.57,189.18 L531.30,187.68 L532.03,185.65 L532.77,183.23 L533.50,180.55 L534.24,177.76 L534.98,174.75 L535.71,171.75 L536.44,168.62 L537.18,165.31 L537.33,164.62 L537.47,163.93 L537.62,163.22 L537.77,162.50 L537.91,161.77 L538.06,161.03 L538.21,160.28 L538.36,159.52 L538.50,158.74 L538.65,157.95 L538.80,157.15 L538.94,156.34 L539.09,155.51 L539.24,154.67 L539.38,153.81 L539.53,152.94 L539.68,152.04 L539.83,151.13 L539.97,150.19 L540.12,149.22 L540.27,148.23 L540.41,147.21 L540.56,146.16 L540.71,145.07 L540.86,143.94 L541.00,142.78 L541.15,141.58 L541.30,140.33 L541.44,139.06 L541.59,137.82 L541.74,136.57 L541.88,135.31 L542.03,134.02 L542.18,132.67 L542.33,131.24 L542.47,129.72 L542.62,128.09 L542.77,126.33 L542.91,124.41 L543.06,122.33 L543.21,120.06 L543.35,117.59 L543.50,114.89 L543.65,111.64 L543.80,106.48 L543.94,99.82 L544.09,92.36 L544.24,84.78 L544.38,77.77 L544.53,72.00 L544.68,67.49 L544.82,63.16 L544.97,59.00 L545.12,55.06 L545.26,51.37 L545.41,47.96 L545.56,44.87 L545.71,42.15 L545.85,39.81 L546.00,37.90 L546.15,39.74 L546.29,41.99 L546.44,44.59 L546.59,47.51 L546.74,50.72 L546.88,54.17 L547.03,57.85 L547.18,61.71 L547.32,65.72 L547.47,69.85 L547.62,74.54 L547.76,80.53 L547.91,87.33 L548.06,94.38 L548.20,101.13 L548.35,107.06 L548.50,111.63 L548.65,114.56 L548.79,117.03 L548.94,119.31 L549.09,121.40 L549.23,123.34 L549.38,125.13 L549.53,126.78 L549.67,128.32 L549.82,129.75 L549.97,131.08 L550.12,132.35 L550.26,133.55 L550.41,134.71 L550.56,135.83 L550.70,136.93 L550.85,138.03 L551.00,139.13 L551.14,140.25 L551.29,141.33 L551.44,142.38 L551.59,143.40 L551.73,144.38 L551.88,145.34 L552.03,146.27 L552.17,147.17 L552.32,148.04 L552.47,148.90 L552.62,149.73 L552.76,150.54 L552.91,151.33 L553.06,152.10 L553.20,152.85 L553.35,153.60 L553.50,154.32 L553.64,155.04 L553.79,155.75 L553.94,156.44 L554.09,157.13 L554.23,157.80 L554.38,158.46 L554.53,159.12 L554.67,159.76 L554.82,160.39 L555.56,163.43 L556.29,166.27 L557.02,168.94 L557.76,171.49 L558.50,174.20 L559.23,176.93 L559.97,179.69 L560.70,182.33 L561.43,184.73 L562.17,186.73 L562.90,188.19 L563.64,189.23 L564.38,190.09 L565.11,190.81 L565.85,191.46 L566.58,192.09 L567.32,192.75 L568.05,193.44 L568.79,194.15 L569.52,194.85 L570.25,195.55 L570.99,196.25 L571.73,196.93 L572.46,197.61 L573.20,198.28 L573.93,198.92 L574.66,199.55 L575.40,200.15 L579.08,202.73 L582.75,204.74 L586.42,206.54 L590.10,208.14 L593.77,209.57 L597.45,210.84 L601.12,211.98 L604.80,213.02 L608.48,214.07 L612.15,215.06 L615.83,215.97 L619.50,216.83 L623.17,217.63 L626.85,218.39 L630.52,219.10 L634.20,219.78 L637.88,220.43 L641.55,221.07 L645.23,221.69 L648.90,222.30 L652.58,222.88 L656.25,223.44 L659.92,223.98 L663.60,224.48 L667.27,224.96 L670.95,225.41 L674.62,225.82 L676.10,225.97" fill="none" stroke="#222" stroke-width="1.0" stroke-opacity="1.0" stroke-linejoin="round"/><g fill="#111"><circle cx="415.91" cy="228.34" r="1.8"/><circle cx="423.25" cy="227.51" r="1.8"/><circle cx="430.61" cy="226.55" r="1.8"/><circle cx="437.95" cy="225.47" r="1.8"/><circle cx="445.31" cy="224.30" r="1.8"/><circle cx="452.66" cy="223.05" r="1.8"/><circle cx="460.00" cy="221.74" r="1.8"/><circle cx="467.36" cy="220.30" r="1.8"/><circle cx="474.71" cy="218.69" r="1.8"/><circle cx="482.06" cy="216.84" r="1.8"/><circle cx="489.40" cy="214.71" r="1.8"/><circle cx="496.75" cy="212.18" r="1.8"/><circle cx="504.11" cy="209.07" r="1.8"/><circle cx="511.45" cy="205.19" r="1.8"/><circle cx="516.60" cy="201.61" r="1.8"/><circle cx="520.27" cy="198.26" r="1.8"/><circle cx="523.95" cy="194.63" r="1.8"/><circle cx="527.62" cy="191.13" r="1.8"/><circle cx="531.30" cy="183.23" r="1.8"/><circle cx="534.98" cy="169.67" r="1.8"/><circle cx="538.65" cy="154.15" r="1.8"/><circle cx="540.12" cy="145.81" r="1.8"/><circle cx="541.59" cy="135.09" r="1.8"/><circle cx="543.06" cy="119.60" r="1.8"/><circle cx="544.53" cy="70.03" r="1.8"/><circle cx="546.00" cy="37.90" r="1.8"/><circle cx="547.47" cy="72.14" r="1.8"/><circle cx="548.94" cy="122.56" r="1.8"/><circle cx="550.41" cy="138.13" r="1.8"/><circle cx="551.88" cy="149.60" r="1.8"/><circle cx="553.35" cy="158.39" r="1.8"/><circle cx="557.02" cy="175.33" r="1.8"/><circle cx="560.70" cy="188.40" r="1.8"/><circle cx="564.38" cy="193.40" r="1.8"/><circle cx="568.05" cy="197.04" r="1.8"/><circle cx="571.73" cy="200.71" r="1.8"/><circle cx="575.40" cy="203.95" r="1.8"/><circle cx="580.55" cy="207.34" r="1.8"/><circle cx="587.89" cy="211.24" r="1.8"/><circle cx="595.25" cy="214.40" r="1.8"/><circle cx="602.60" cy="217.00" r="1.8"/><circle cx="609.94" cy="219.12" r="1.8"/><circle cx="617.29" cy="220.92" r="1.8"/><circle cx="624.64" cy="222.49" r="1.8"/><circle cx="632.00" cy="223.90" r="1.8"/><circle cx="639.35" cy="225.20" r="1.8"/><circle cx="646.70" cy="226.43" r="1.8"/><circle cx="654.05" cy="227.58" r="1.8"/><circle cx="661.39" cy="228.64" r="1.8"/><circle cx="668.75" cy="229.58" r="1.8"/><circle cx="676.10" cy="230.38" r="1.8"/></g><g fill="#111"><circle cx="419.58" cy="228.10" r="1.8"/><circle cx="426.93" cy="227.23" r="1.8"/><circle cx="434.28" cy="226.23" r="1.8"/><circle cx="441.63" cy="225.13" r="1.8"/><circle cx="448.98" cy="223.93" r="1.8"/><circle cx="456.33" cy="222.66" r="1.8"/><circle cx="463.68" cy="221.32" r="1.8"/><circle cx="471.03" cy="219.84" r="1.8"/><circle cx="478.38" cy="218.16" r="1.8"/><circle cx="485.73" cy="216.23" r="1.8"/><circle cx="493.08" cy="214.00" r="1.8"/><circle cx="500.43" cy="211.32" r="1.8"/><circle cx="507.78" cy="207.99" r="1.8"/><circle cx="515.13" cy="203.84" r="1.8"/><circle cx="520.27" cy="199.65" r="1.8"/><circle cx="523.95" cy="196.09" r="1.8"/><circle cx="527.62" cy="192.56" r="1.8"/><circle cx="531.30" cy="187.68" r="1.8"/><circle cx="534.98" cy="174.75" r="1.8"/><circle cx="538.65" cy="157.95" r="1.8"/><circle cx="542.33" cy="131.24" r="1.8"/><circle cx="543.80" cy="106.48" r="1.8"/><circle cx="545.26" cy="51.37" r="1.8"/><circle cx="546.74" cy="50.72" r="1.8"/><circle cx="548.20" cy="101.13" r="1.8"/><circle cx="549.67" cy="128.32" r="1.8"/><circle cx="551.14" cy="140.25" r="1.8"/><circle cx="552.62" cy="149.73" r="1.8"/><circle cx="554.09" cy="157.13" r="1.8"/><circle cx="555.56" cy="163.43" r="1.8"/><circle cx="557.02" cy="168.94" r="1.8"/><circle cx="560.70" cy="182.33" r="1.8"/><circle cx="564.38" cy="190.09" r="1.8"/><circle cx="568.05" cy="193.44" r="1.8"/><circle cx="571.73" cy="196.93" r="1.8"/><circle cx="575.40" cy="200.15" r="1.8"/><circle cx="579.08" cy="202.73" r="1.8"/><circle cx="584.22" cy="205.48" r="1.8"/><circle cx="591.57" cy="208.73" r="1.8"/><circle cx="598.92" cy="211.31" r="1.8"/><circle cx="606.27" cy="213.45" r="1.8"/><circle cx="613.62" cy="215.43" r="1.8"/><circle cx="620.97" cy="217.16" r="1.8"/><circle cx="628.32" cy="218.68" r="1.8"/><circle cx="635.67" cy="220.04" r="1.8"/><circle cx="643.02" cy="221.32" r="1.8"/><circle cx="650.37" cy="222.53" r="1.8"/><circle cx="657.72" cy="223.66" r="1.8"/><circle cx="665.07" cy="224.68" r="1.8"/><circle cx="672.42" cy="225.58" r="1.8"/></g><path d="M415.91,206.32 L417.38,206.10 L421.05,205.54 L424.73,204.94 L428.40,204.31 L432.07,203.66 L435.75,202.98 L439.43,202.28 L443.10,201.55 L446.77,200.81 L450.45,200.05 L454.12,199.27 L457.80,198.48 L461.48,197.67 L465.15,196.84 L468.82,195.99 L472.50,195.09 L476.18,194.14 L479.85,193.12 L483.52,192.04 L487.20,190.87 L490.88,189.60 L494.55,188.14 L498.23,186.51 L501.90,184.72 L505.57,182.82 L509.25,180.83 L512.92,178.78 L516.60,176.71 L517.34,176.27 L518.07,175.83 L518.80,175.37 L519.54,174.89 L520.27,174.40 L521.01,173.88 L521.75,173.33 L522.48,172.76 L523.22,172.16 L523.95,171.54 L524.68,170.91 L525.42,170.25 L526.15,169.55 L526.89,168.79 L527.62,167.96 L528.36,167.04 L529.10,166.03 L529.83,164.90 L530.57,163.65 L531.30,162.10 L532.03,160.12 L532.77,157.75 L533.50,155.06 L534.24,152.07 L534.98,149.16 L535.71,146.08 L536.44,142.86 L537.18,139.36 L537.33,138.57 L537.47,137.75 L537.62,136.91 L537.77,136.04 L537.91,135.15 L538.06,134.24 L538.21,133.31 L538.36,132.36 L538.50,131.40 L538.65,130.43 L538.80,129.45 L538.94,128.45 L539.09,127.45 L539.24,126.47 L539.38,125.50 L539.53,124.54 L539.68,123.58 L539.83,122.61 L539.97,121.62 L540.12,120.60 L540.27,119.54 L540.41,118.43 L540.56,117.25 L540.71,116.01 L540.86,114.69 L541.00,113.28 L541.15,111.78 L541.30,110.16 L541.44,108.41 L541.59,106.25 L541.74,103.63 L541.88,100.63 L542.03,97.35 L542.18,93.87 L542.33,90.28 L542.47,86.68 L542.62,83.15 L542.77,79.80 L542.91,76.71 L543.06,73.87 L543.21,70.99 L543.35,68.09 L543.50,65.21 L543.65,62.38 L543.80,59.65 L543.94,57.06 L544.09,54.65 L544.24,52.46 L544.38,50.53 L544.53,48.90 L544.68,47.38 L544.82,45.92 L544.97,44.52 L545.12,43.19 L545.26,41.97 L545.41,40.85 L545.56,39.87 L545.71,39.04 L545.85,38.38 L546.00,37.90 L546.15,38.39 L546.29,39.07 L546.44,39.94 L546.59,40.97 L546.74,42.16 L546.88,43.46 L547.03,44.88 L547.18,46.39 L547.32,47.97 L547.47,49.61 L547.62,51.51 L547.76,53.75 L547.91,56.27 L548.06,59.02 L548.20,61.95 L548.35,65.02 L548.50,68.16 L548.65,71.33 L548.79,74.47 L548.94,77.64 L549.09,81.16 L549.23,84.96 L549.38,88.92 L549.53,92.92 L549.67,96.82 L549.82,100.51 L549.97,103.85 L550.12,106.71 L550.26,108.98 L550.41,110.88 L550.56,112.64 L550.70,114.27 L550.85,115.79 L551.00,117.20 L551.14,118.53 L551.29,119.78 L551.44,120.98 L551.59,122.13 L551.73,123.24 L551.88,124.35 L552.03,125.44 L552.17,126.55 L552.32,127.69 L552.47,128.84 L552.62,129.98 L552.76,131.12 L552.91,132.23 L553.06,133.33 L553.20,134.41 L553.35,135.46 L553.50,136.49 L553.64,137.49 L553.79,138.45 L553.94,139.38 L554.09,140.26 L554.23,141.11 L554.38,141.91 L554.53,142.68 L554.67,143.46 L554.82,144.22 L555.56,147.96 L556.29,151.51 L557.02,154.79 L557.76,157.75 L558.50,160.12 L559.23,162.10 L559.97,163.65 L560.70,164.90 L561.43,166.03 L562.17,167.04 L562.90,167.96 L563.64,168.79 L564.38,169.55 L565.11,170.25 L565.85,170.91 L566.58,171.54 L567.32,172.16 L568.05,172.76 L568.79,173.33 L569.52,173.88 L570.25,174.40 L570.99,174.89 L571.73,175.37 L572.46,175.83 L573.20,176.27 L573.93,176.71 L574.66,177.13 L575.40,177.55 L579.08,179.60 L582.75,181.63 L586.42,183.59 L590.10,185.45 L593.77,187.18 L597.45,188.75 L601.12,190.13 L604.80,191.35 L608.48,192.48 L612.15,193.54 L615.83,194.52 L619.50,195.45 L623.17,196.33 L626.85,197.18 L630.52,197.99 L634.20,198.79 L637.88,199.58 L641.55,200.35 L645.23,201.11 L648.90,201.84 L652.58,202.56 L656.25,203.25 L659.92,203.92 L663.60,204.56 L667.27,205.18 L670.95,205.77 L674.62,206.32 L676.10,206.54" fill="none" stroke="#d02020" stroke-width="1.1" stroke-opacity="1.0" stroke-linejoin="round"/><path d="M415.91,206.54 L417.38,206.32 L421.05,205.77 L424.73,205.18 L428.40,204.56 L432.07,203.92 L435.75,203.25 L439.43,202.56 L443.10,201.84 L446.77,201.11 L450.45,200.35 L454.12,199.58 L457.80,198.79 L461.48,197.99 L465.15,197.18 L468.82,196.33 L472.50,195.45 L476.18,194.52 L479.85,193.54 L483.52,192.48 L487.20,191.35 L490.88,190.13 L494.55,188.75 L498.23,187.18 L501.90,185.45 L505.57,183.59 L509.25,181.63 L512.92,179.60 L516.60,177.55 L517.34,177.13 L518.07,176.71 L518.80,176.27 L519.54,175.83 L520.27,175.37 L521.01,174.89 L521.75,174.40 L522.48,173.88 L523.22,173.33 L523.95,172.76 L524.68,172.16 L525.42,171.54 L526.15,170.91 L526.89,170.25 L527.62,169.55 L528.36,168.79 L529.10,167.96 L529.83,167.04 L530.57,166.03 L531.30,164.90 L532.03,163.65 L532.77,162.10 L533.50,160.12 L534.24,157.75 L534.98,154.79 L535.71,151.51 L536.44,147.96 L537.18,144.22 L537.33,143.46 L537.47,142.68 L537.62,141.91 L537.77,141.11 L537.91,140.26 L538.06,139.38 L538.21,138.45 L538.36,137.49 L538.50,136.49 L538.65,135.46 L538.80,134.41 L538.94,133.33 L539.09,132.23 L539.24,131.12 L539.38,129.98 L539.53,128.84 L539.68,127.69 L539.83,126.55 L539.97,125.44 L540.12,124.35 L540.27,123.24 L540.41,122.13 L540.56,120.98 L540.71,119.78 L540.86,118.53 L541.00,117.20 L541.15,115.79 L541.30,114.27 L541.44,112.64 L541.59,110.88 L541.74,108.98 L541.88,106.71 L542.03,103.85 L542.18,100.51 L542.33,96.82 L542.47,92.92 L542.62,88.92 L542.77,84.96 L542.91,81.16 L543.06,77.64 L543.21,74.47 L543.35,71.33 L543.50,68.16 L543.65,65.02 L543.80,61.95 L543.94,59.02 L544.09,56.27 L544.24,53.75 L544.38,51.51 L544.53,49.61 L544.68,47.97 L544.82,46.39 L544.97,44.88 L545.12,43.46 L545.26,42.16 L545.41,40.97 L545.56,39.94 L545.71,39.07 L545.85,38.39 L546.00,37.90 L546.15,38.38 L546.29,39.04 L546.44,39.87 L546.59,40.85 L546.74,41.97 L546.88,43.19 L547.03,44.52 L547.18,45.92 L547.32,47.38 L547.47,48.90 L547.62,50.53 L547.76,52.46 L547.91,54.65 L548.06,57.06 L548.20,59.65 L548.35,62.38 L548.50,65.21 L548.65,68.09 L548.79,70.99 L548.94,73.87 L549.09,76.71 L549.23,79.80 L549.38,83.15 L549.53,86.68 L549.67,90.28 L549.82,93.87 L549.97,97.35 L550.12,100.63 L550.26,103.63 L550.41,106.25 L550.56,108.41 L550.70,110.16 L550.85,111.78 L551.00,113.28 L551.14,114.69 L551.29,116.01 L551.44,117.25 L551.59,118.43 L551.73,119.54 L551.88,120.60 L552.03,121.62 L552.17,122.61 L552.32,123.58 L552.47,124.54 L552.62,125.50 L552.76,126.47 L552.91,127.45 L553.06,128.45 L553.20,129.45 L553.35,130.43 L553.50,131.40 L553.64,132.36 L553.79,133.31 L553.94,134.24 L554.09,135.15 L554.23,136.04 L554.38,136.91 L554.53,137.75 L554.67,138.57 L554.82,139.36 L555.56,142.86 L556.29,146.08 L557.02,149.16 L557.76,152.07 L558.50,155.06 L559.23,157.75 L559.97,160.12 L560.70,162.10 L561.43,163.65 L562.17,164.90 L562.90,166.03 L563.64,167.04 L564.38,167.96 L565.11,168.79 L565.85,169.55 L566.58,170.25 L567.32,170.91 L568.05,171.54 L568.79,172.16 L569.52,172.76 L570.25,173.33 L570.99,173.88 L571.73,174.40 L572.46,174.89 L573.20,175.37 L573.93,175.83 L574.66,176.27 L575.40,176.71 L579.08,178.78 L582.75,180.83 L586.42,182.82 L590.10,184.72 L593.77,186.51 L597.45,188.14 L601.12,189.60 L604.80,190.87 L608.48,192.04 L612.15,193.12 L615.83,194.14 L619.50,195.09 L623.17,195.99 L626.85,196.84 L630.52,197.67 L634.20,198.48 L637.88,199.27 L641.55,200.05 L645.23,200.81 L648.90,201.55 L652.58,202.28 L656.25,202.98 L659.92,203.66 L663.60,204.31 L667.27,204.94 L670.95,205.54 L674.62,206.10 L676.10,206.32" fill="none" stroke="#d02020" stroke-width="1.1" stroke-opacity="1.0" stroke-linejoin="round"/><g fill="#c01616"><circle cx="415.91" cy="206.32" r="1.8"/><circle cx="423.25" cy="205.18" r="1.8"/><circle cx="430.61" cy="203.92" r="1.8"/><circle cx="437.95" cy="202.56" r="1.8"/><circle cx="445.31" cy="201.11" r="1.8"/><circle cx="452.66" cy="199.58" r="1.8"/><circle cx="460.00" cy="197.99" r="1.8"/><circle cx="467.36" cy="196.33" r="1.8"/><circle cx="474.71" cy="194.52" r="1.8"/><circle cx="482.06" cy="192.48" r="1.8"/><circle cx="489.40" cy="190.13" r="1.8"/><circle cx="496.75" cy="187.18" r="1.8"/><circle cx="504.11" cy="183.59" r="1.8"/><circle cx="511.45" cy="179.60" r="1.8"/><circle cx="516.60" cy="176.71" r="1.8"/><circle cx="520.27" cy="174.40" r="1.8"/><circle cx="523.95" cy="171.54" r="1.8"/><circle cx="527.62" cy="167.96" r="1.8"/><circle cx="531.30" cy="162.10" r="1.8"/><circle cx="534.98" cy="149.16" r="1.8"/><circle cx="538.65" cy="130.43" r="1.8"/><circle cx="540.12" cy="120.60" r="1.8"/><circle cx="541.59" cy="106.25" r="1.8"/><circle cx="543.06" cy="73.87" r="1.8"/><circle cx="544.53" cy="48.90" r="1.8"/><circle cx="546.00" cy="37.90" r="1.8"/><circle cx="547.47" cy="49.61" r="1.8"/><circle cx="548.94" cy="77.64" r="1.8"/><circle cx="550.41" cy="110.88" r="1.8"/><circle cx="551.88" cy="124.35" r="1.8"/><circle cx="553.35" cy="135.46" r="1.8"/><circle cx="557.02" cy="154.79" r="1.8"/><circle cx="560.70" cy="164.90" r="1.8"/><circle cx="564.38" cy="169.55" r="1.8"/><circle cx="568.05" cy="172.76" r="1.8"/><circle cx="571.73" cy="175.37" r="1.8"/><circle cx="575.40" cy="177.55" r="1.8"/><circle cx="580.55" cy="180.42" r="1.8"/><circle cx="587.89" cy="184.35" r="1.8"/><circle cx="595.25" cy="187.83" r="1.8"/><circle cx="602.60" cy="190.63" r="1.8"/><circle cx="609.94" cy="192.91" r="1.8"/><circle cx="617.29" cy="194.90" r="1.8"/><circle cx="624.64" cy="196.67" r="1.8"/><circle cx="632.00" cy="198.32" r="1.8"/><circle cx="639.35" cy="199.89" r="1.8"/><circle cx="646.70" cy="201.40" r="1.8"/><circle cx="654.05" cy="202.84" r="1.8"/><circle cx="661.39" cy="204.18" r="1.8"/><circle cx="668.75" cy="205.42" r="1.8"/><circle cx="676.10" cy="206.54" r="1.8"/></g><g fill="#c01616"><circle cx="419.58" cy="205.99" r="1.8"/><circle cx="426.93" cy="204.81" r="1.8"/><circle cx="434.28" cy="203.52" r="1.8"/><circle cx="441.63" cy="202.13" r="1.8"/><circle cx="448.98" cy="200.66" r="1.8"/><circle cx="456.33" cy="199.11" r="1.8"/><circle cx="463.68" cy="197.51" r="1.8"/><circle cx="471.03" cy="195.81" r="1.8"/><circle cx="478.38" cy="193.94" r="1.8"/><circle cx="485.73" cy="191.81" r="1.8"/><circle cx="493.08" cy="189.32" r="1.8"/><circle cx="500.43" cy="186.16" r="1.8"/><circle cx="507.78" cy="182.42" r="1.8"/><circle cx="515.13" cy="178.37" r="1.8"/><circle cx="520.27" cy="175.37" r="1.8"/><circle cx="523.95" cy="172.76" r="1.8"/><circle cx="527.62" cy="169.55" r="1.8"/><circle cx="531.30" cy="164.90" r="1.8"/><circle cx="534.98" cy="154.79" r="1.8"/><circle cx="538.65" cy="135.46" r="1.8"/><circle cx="542.33" cy="96.82" r="1.8"/><circle cx="543.80" cy="61.95" r="1.8"/><circle cx="545.26" cy="42.16" r="1.8"/><circle cx="546.74" cy="41.97" r="1.8"/><circle cx="548.20" cy="59.65" r="1.8"/><circle cx="549.67" cy="90.28" r="1.8"/><circle cx="551.14" cy="114.69" r="1.8"/><circle cx="552.62" cy="125.50" r="1.8"/><circle cx="554.09" cy="135.15" r="1.8"/><circle cx="555.56" cy="142.86" r="1.8"/><circle cx="557.02" cy="149.16" r="1.8"/><circle cx="560.70" cy="162.10" r="1.8"/><circle cx="564.38" cy="167.96" r="1.8"/><circle cx="568.05" cy="171.54" r="1.8"/><circle cx="571.73" cy="174.40" r="1.8"/><circle cx="575.40" cy="176.71" r="1.8"/><circle cx="579.08" cy="178.78" r="1.8"/><circle cx="584.22" cy="181.63" r="1.8"/><circle cx="591.57" cy="185.45" r="1.8"/><circle cx="598.92" cy="188.75" r="1.8"/><circle cx="606.27" cy="191.35" r="1.8"/><circle cx="613.62" cy="193.54" r="1.8"/><circle cx="620.97" cy="195.45" r="1.8"/><circle cx="628.32" cy="197.18" r="1.8"/><circle cx="635.67" cy="198.79" r="1.8"/><circle cx="643.02" cy="200.35" r="1.8"/><circle cx="650.37" cy="201.84" r="1.8"/><circle cx="657.72" cy="203.25" r="1.8"/><circle cx="665.07" cy="204.56" r="1.8"/><circle cx="672.42" cy="205.77" r="1.8"/></g><text x="402.5" y="17.4" font-size="12" fill="#222" stroke="#222" stroke-width="0.3">chloride bath</text><text x="402.5" y="32.1" font-size="12" fill="#222" stroke="#222" stroke-width="0.3">(sample 12)</text><text transform="translate(369,132.1) rotate(-90)" font-size="12" fill="#222" text-anchor="middle" stroke="#222" stroke-width="0.3">MR (%)</text><text x="546.4" y="285.7" font-size="12" fill="#222" text-anchor="middle" stroke="#222" stroke-width="0.3">H (kOe)</text><text x="409.5" y="92.8" font-size="12.3" fill="#222" stroke="#222" stroke-width="0.3"><tspan font-style="italic">c</tspan><tspan font-size="8.6" dy="3.6">Fe/FeCo</tspan><tspan dy="-3.6">=&#160; 20 mol%</tspan></text><text x="409.5" y="111.6" font-size="12.3" fill="#222" stroke="#222" stroke-width="0.3"><tspan font-style="italic">j</tspan> = -34.5 mA cm<tspan font-size="8.6" dy="-5">-2</tspan></text><text x="594.5" y="93.6" font-size="12.3" fill="#222" stroke="#222" stroke-width="0.3"><tspan font-style="italic">d</tspan><tspan font-size="8.6" dy="3">Cu</tspan><tspan dy="-3"> = 5 nm</tspan></text><text x="594.5" y="111" font-size="12.3" fill="#222" stroke="#222" stroke-width="0.3"><tspan font-style="italic">d</tspan><tspan font-size="8.6" dy="3">FeCo</tspan><tspan dy="-3"> = 5 nm</tspan></text><text x="649.3" y="189.8" font-size="12" fill="#cc3333" stroke="#cc3333" stroke-width="0.3"><tspan font-style="italic">LMR</tspan><tspan font-size="8.5" dy="2.5">exp</tspan></text><text x="649.3" y="243" font-size="12" fill="#222" stroke="#222" stroke-width="0.3"><tspan font-style="italic">TMR</tspan><tspan font-size="8.5" dy="2.5">exp</tspan></text><g stroke="#4a4a4a" stroke-width="1.5" fill="none"><line x1="59.2" y1="324.35" x2="59.2" y2="546.62"/><line x1="59.2" y1="546.62" x2="335" y2="546.62"/><line x1="59.2" y1="350.5" x2="335" y2="350.5"/><line x1="197.1" y1="324.35" x2="197.1" y2="546.62" stroke-width="1.2"/><line x1="54.2" y1="324.35" x2="59.2" y2="324.35"/><line x1="54.2" y1="350.5" x2="59.2" y2="350.5"/><line x1="54.2" y1="376.65" x2="59.2" y2="376.65"/><line x1="54.2" y1="402.8" x2="59.2" y2="402.8"/><line x1="54.2" y1="428.95" x2="59.2" y2="428.95"/><line x1="54.2" y1="455.1" x2="59.2" y2="455.1"/><line x1="54.2" y1="481.25" x2="59.2" y2="481.25"/><line x1="54.2" y1="507.4" x2="59.2" y2="507.4"/><line x1="54.2" y1="533.55" x2="59.2" y2="533.55"/><line x1="56.7" y1="337.43" x2="59.2" y2="337.43"/><line x1="56.7" y1="363.57" x2="59.2" y2="363.57"/><line x1="56.7" y1="389.73" x2="59.2" y2="389.73"/><line x1="56.7" y1="415.88" x2="59.2" y2="415.88"/><line x1="56.7" y1="442.02" x2="59.2" y2="442.02"/><line x1="56.7" y1="468.18" x2="59.2" y2="468.18"/><line x1="56.7" y1="494.32" x2="59.2" y2="494.32"/><line x1="56.7" y1="520.48" x2="59.2" y2="520.48"/><line x1="59.2" y1="546.62" x2="59.2" y2="551.62"/><line x1="86.78" y1="546.62" x2="86.78" y2="551.62"/><line x1="114.36" y1="546.62" x2="114.36" y2="551.62"/><line x1="141.94" y1="546.62" x2="141.94" y2="551.62"/><line x1="169.52" y1="546.62" x2="169.52" y2="551.62"/><line x1="197.1" y1="546.62" x2="197.1" y2="551.62"/><line x1="224.68" y1="546.62" x2="224.68" y2="551.62"/><line x1="252.26" y1="546.62" x2="252.26" y2="551.62"/><line x1="279.84" y1="546.62" x2="279.84" y2="551.62"/><line x1="307.42" y1="546.62" x2="307.42" y2="551.62"/><line x1="335" y1="546.62" x2="335" y2="551.62"/><line x1="72.99" y1="546.62" x2="72.99" y2="549.12"/><line x1="100.57" y1="546.62" x2="100.57" y2="549.12"/><line x1="128.15" y1="546.62" x2="128.15" y2="549.12"/><line x1="155.73" y1="546.62" x2="155.73" y2="549.12"/><line x1="183.31" y1="546.62" x2="183.31" y2="549.12"/><line x1="210.89" y1="546.62" x2="210.89" y2="549.12"/><line x1="238.47" y1="546.62" x2="238.47" y2="549.12"/><line x1="266.05" y1="546.62" x2="266.05" y2="549.12"/><line x1="293.63" y1="546.62" x2="293.63" y2="549.12"/><line x1="321.21" y1="546.62" x2="321.21" y2="549.12"/></g><g fill="#333" font-size="9.8" stroke="#333" stroke-width="0.3"><text x="51.7" y="327.95" text-anchor="end">0.5</text><text x="51.7" y="354.1" text-anchor="end">0.0</text><text x="51.7" y="380.25" text-anchor="end">-0.5</text><text x="51.7" y="406.4" text-anchor="end">-1.0</text><text x="51.7" y="432.55" text-anchor="end">-1.5</text><text x="51.7" y="458.7" text-anchor="end">-2.0</text><text x="51.7" y="484.85" text-anchor="end">-2.5</text><text x="51.7" y="511" text-anchor="end">-3.0</text><text x="51.7" y="537.15" text-anchor="end">-3.5</text><text x="59.2" y="561.83" text-anchor="middle">-10</text><text x="86.78" y="561.83" text-anchor="middle">-8</text><text x="114.36" y="561.83" text-anchor="middle">-6</text><text x="141.94" y="561.83" text-anchor="middle">-4</text><text x="169.52" y="561.83" text-anchor="middle">-2</text><text x="197.1" y="561.83" text-anchor="middle">0</text><text x="224.68" y="561.83" text-anchor="middle">2</text><text x="252.26" y="561.83" text-anchor="middle">4</text><text x="279.84" y="561.83" text-anchor="middle">6</text><text x="307.42" y="561.83" text-anchor="middle">8</text><text x="335" y="561.83" text-anchor="middle">10</text></g><path d="M75.75,384.10 L76.44,384.01 L79.89,383.58 L83.33,383.13 L86.78,382.66 L90.23,382.17 L93.68,381.66 L97.12,381.13 L100.57,380.57 L104.02,379.99 L107.47,379.39 L110.91,378.76 L114.36,378.11 L117.81,377.42 L121.26,376.71 L124.70,375.97 L128.15,375.19 L131.60,374.38 L135.05,373.54 L138.49,372.66 L141.94,371.75 L145.39,370.80 L148.84,369.80 L152.28,368.76 L155.73,367.68 L159.18,366.56 L162.62,365.38 L166.07,364.16 L169.52,362.88 L170.21,362.62 L170.90,362.35 L171.59,362.09 L172.28,361.82 L172.97,361.55 L173.66,361.27 L174.35,361.00 L175.04,360.72 L175.73,360.44 L176.42,360.16 L177.10,359.88 L177.79,359.59 L178.48,359.30 L179.17,359.01 L179.86,358.71 L180.55,358.42 L181.24,358.12 L181.93,357.82 L182.62,357.51 L183.31,357.20 L184.00,356.89 L184.69,356.58 L185.38,356.27 L186.07,355.95 L186.76,355.63 L187.45,355.31 L188.14,354.98 L188.83,354.66 L188.96,354.59 L189.10,354.52 L189.24,354.46 L189.38,354.39 L189.52,354.33 L189.65,354.26 L189.79,354.19 L189.93,354.13 L190.07,354.06 L190.20,353.99 L190.34,353.92 L190.48,353.86 L190.62,353.79 L190.76,353.72 L190.89,353.66 L191.03,353.59 L191.17,353.52 L191.31,353.45 L191.45,353.38 L191.58,353.32 L191.72,353.25 L191.86,353.18 L192.00,353.11 L192.14,353.04 L192.27,352.97 L192.41,352.91 L192.55,352.84 L192.69,352.77 L192.83,352.70 L192.96,352.63 L193.10,352.56 L193.24,352.49 L193.38,352.42 L193.51,352.35 L193.65,352.28 L193.79,352.21 L193.93,352.14 L194.07,352.07 L194.20,352.00 L194.34,351.93 L194.48,351.86 L194.62,351.79 L194.76,351.72 L194.89,351.65 L195.03,351.58 L195.17,351.51 L195.31,351.44 L195.45,351.36 L195.58,351.29 L195.72,351.22 L195.86,351.15 L196.00,351.08 L196.13,351.01 L196.27,350.93 L196.41,350.86 L196.55,350.79 L196.69,350.72 L196.82,350.65 L196.96,350.57 L197.10,350.50 L197.24,350.57 L197.38,350.65 L197.51,350.72 L197.65,350.79 L197.79,350.86 L197.93,350.93 L198.07,351.01 L198.20,351.08 L198.34,351.15 L198.48,351.22 L198.62,351.29 L198.75,351.36 L198.89,351.44 L199.03,351.51 L199.17,351.58 L199.31,351.65 L199.44,351.72 L199.58,351.79 L199.72,351.86 L199.86,351.93 L200.00,352.00 L200.13,352.07 L200.27,352.14 L200.41,352.21 L200.55,352.28 L200.69,352.35 L200.82,352.42 L200.96,352.49 L201.10,352.56 L201.24,352.63 L201.37,352.70 L201.51,352.77 L201.65,352.84 L201.79,352.91 L201.93,352.97 L202.06,353.04 L202.20,353.11 L202.34,353.18 L202.48,353.25 L202.62,353.32 L202.75,353.38 L202.89,353.45 L203.03,353.52 L203.17,353.59 L203.31,353.66 L203.44,353.72 L203.58,353.79 L203.72,353.86 L203.86,353.92 L204.00,353.99 L204.13,354.06 L204.27,354.13 L204.41,354.19 L204.55,354.26 L204.68,354.33 L204.82,354.39 L204.96,354.46 L205.10,354.52 L205.24,354.59 L205.37,354.66 L206.06,354.98 L206.75,355.31 L207.44,355.63 L208.13,355.95 L208.82,356.27 L209.51,356.58 L210.20,356.89 L210.89,357.20 L211.58,357.51 L212.27,357.82 L212.96,358.12 L213.65,358.42 L214.34,358.71 L215.03,359.01 L215.72,359.30 L216.41,359.59 L217.10,359.88 L217.79,360.16 L218.47,360.44 L219.16,360.72 L219.85,361.00 L220.54,361.27 L221.23,361.55 L221.92,361.82 L222.61,362.09 L223.30,362.35 L223.99,362.62 L224.68,362.88 L228.13,364.16 L231.57,365.38 L235.02,366.56 L238.47,367.68 L241.92,368.76 L245.37,369.80 L248.81,370.80 L252.26,371.75 L255.71,372.66 L259.16,373.54 L262.60,374.38 L266.05,375.19 L269.50,375.97 L272.95,376.71 L276.39,377.42 L279.84,378.11 L283.29,378.76 L286.74,379.39 L290.18,379.99 L293.63,380.57 L297.08,381.13 L300.52,381.66 L303.97,382.17 L307.42,382.66 L310.87,383.13 L314.31,383.58 L317.76,384.01 L318.45,384.10" fill="none" stroke="#7099c4" stroke-width="1.1" stroke-opacity="1.0" stroke-linejoin="round"/><path d="M75.75,384.10 L76.44,384.01 L79.89,383.58 L83.33,383.13 L86.78,382.66 L90.23,382.17 L93.68,381.66 L97.12,381.13 L100.57,380.57 L104.02,379.99 L107.47,379.39 L110.91,378.76 L114.36,378.11 L117.81,377.42 L121.26,376.71 L124.70,375.97 L128.15,375.19 L131.60,374.38 L135.05,373.54 L138.49,372.66 L141.94,371.75 L145.39,370.80 L148.84,369.80 L152.28,368.76 L155.73,367.68 L159.18,366.56 L162.62,365.38 L166.07,364.16 L169.52,362.88 L170.21,362.62 L170.90,362.35 L171.59,362.09 L172.28,361.82 L172.97,361.55 L173.66,361.27 L174.35,361.00 L175.04,360.72 L175.73,360.44 L176.42,360.16 L177.10,359.88 L177.79,359.59 L178.48,359.30 L179.17,359.01 L179.86,358.71 L180.55,358.42 L181.24,358.12 L181.93,357.82 L182.62,357.51 L183.31,357.20 L184.00,356.89 L184.69,356.58 L185.38,356.27 L186.07,355.95 L186.76,355.63 L187.45,355.31 L188.14,354.98 L188.83,354.66 L188.96,354.59 L189.10,354.52 L189.24,354.46 L189.38,354.39 L189.52,354.33 L189.65,354.26 L189.79,354.19 L189.93,354.13 L190.07,354.06 L190.20,353.99 L190.34,353.92 L190.48,353.86 L190.62,353.79 L190.76,353.72 L190.89,353.66 L191.03,353.59 L191.17,353.52 L191.31,353.45 L191.45,353.38 L191.58,353.32 L191.72,353.25 L191.86,353.18 L192.00,353.11 L192.14,353.04 L192.27,352.97 L192.41,352.91 L192.55,352.84 L192.69,352.77 L192.83,352.70 L192.96,352.63 L193.10,352.56 L193.24,352.49 L193.38,352.42 L193.51,352.35 L193.65,352.28 L193.79,352.21 L193.93,352.14 L194.07,352.07 L194.20,352.00 L194.34,351.93 L194.48,351.86 L194.62,351.79 L194.76,351.72 L194.89,351.65 L195.03,351.58 L195.17,351.51 L195.31,351.44 L195.45,351.36 L195.58,351.29 L195.72,351.22 L195.86,351.15 L196.00,351.08 L196.13,351.01 L196.27,350.93 L196.41,350.86 L196.55,350.79 L196.69,350.72 L196.82,350.65 L196.96,350.57 L197.10,350.50 L197.24,350.57 L197.38,350.65 L197.51,350.72 L197.65,350.79 L197.79,350.86 L197.93,350.93 L198.07,351.01 L198.20,351.08 L198.34,351.15 L198.48,351.22 L198.62,351.29 L198.75,351.36 L198.89,351.44 L199.03,351.51 L199.17,351.58 L199.31,351.65 L199.44,351.72 L199.58,351.79 L199.72,351.86 L199.86,351.93 L200.00,352.00 L200.13,352.07 L200.27,352.14 L200.41,352.21 L200.55,352.28 L200.69,352.35 L200.82,352.42 L200.96,352.49 L201.10,352.56 L201.24,352.63 L201.37,352.70 L201.51,352.77 L201.65,352.84 L201.79,352.91 L201.93,352.97 L202.06,353.04 L202.20,353.11 L202.34,353.18 L202.48,353.25 L202.62,353.32 L202.75,353.38 L202.89,353.45 L203.03,353.52 L203.17,353.59 L203.31,353.66 L203.44,353.72 L203.58,353.79 L203.72,353.86 L203.86,353.92 L204.00,353.99 L204.13,354.06 L204.27,354.13 L204.41,354.19 L204.55,354.26 L204.68,354.33 L204.82,354.39 L204.96,354.46 L205.10,354.52 L205.24,354.59 L205.37,354.66 L206.06,354.98 L206.75,355.31 L207.44,355.63 L208.13,355.95 L208.82,356.27 L209.51,356.58 L210.20,356.89 L210.89,357.20 L211.58,357.51 L212.27,357.82 L212.96,358.12 L213.65,358.42 L214.34,358.71 L215.03,359.01 L215.72,359.30 L216.41,359.59 L217.10,359.88 L217.79,360.16 L218.47,360.44 L219.16,360.72 L219.85,361.00 L220.54,361.27 L221.23,361.55 L221.92,361.82 L222.61,362.09 L223.30,362.35 L223.99,362.62 L224.68,362.88 L228.13,364.16 L231.57,365.38 L235.02,366.56 L238.47,367.68 L241.92,368.76 L245.37,369.80 L248.81,370.80 L252.26,371.75 L255.71,372.66 L259.16,373.54 L262.60,374.38 L266.05,375.19 L269.50,375.97 L272.95,376.71 L276.39,377.42 L279.84,378.11 L283.29,378.76 L286.74,379.39 L290.18,379.99 L293.63,380.57 L297.08,381.13 L300.52,381.66 L303.97,382.17 L307.42,382.66 L310.87,383.13 L314.31,383.58 L317.76,384.01 L318.45,384.10" fill="none" stroke="#7099c4" stroke-width="1.1" stroke-opacity="1.0" stroke-linejoin="round"/><path d="M75.75,486.48 L76.44,486.48 L79.89,486.47 L83.33,486.47 L86.78,486.46 L90.23,486.45 L93.68,486.43 L97.12,486.41 L100.57,486.38 L104.02,486.34 L107.47,486.29 L110.91,486.22 L114.36,486.14 L117.81,486.04 L121.26,485.91 L124.70,485.77 L128.15,485.61 L131.60,485.44 L135.05,485.26 L138.49,485.08 L141.94,484.91 L145.39,484.75 L148.84,484.62 L152.28,484.52 L155.73,484.45 L159.18,484.43 L162.62,484.37 L166.07,484.04 L169.52,483.44 L170.21,483.29 L170.90,483.14 L171.59,482.98 L172.28,482.81 L172.97,482.64 L173.66,482.45 L174.35,482.27 L175.04,482.04 L175.73,481.74 L176.42,481.38 L177.10,480.97 L177.79,480.50 L178.48,479.99 L179.17,479.43 L179.86,478.85 L180.55,478.20 L181.24,477.46 L181.93,476.60 L182.62,475.63 L183.31,474.52 L184.00,473.27 L184.69,471.77 L185.38,469.93 L186.07,467.75 L186.76,465.97 L187.45,464.01 L188.14,461.83 L188.83,459.14 L188.96,458.53 L189.10,457.90 L189.24,457.25 L189.38,456.58 L189.52,455.89 L189.65,455.18 L189.79,454.45 L189.93,453.70 L190.07,452.93 L190.20,452.15 L190.34,451.35 L190.48,450.54 L190.62,449.71 L190.76,448.87 L190.89,448.01 L191.03,447.13 L191.17,446.23 L191.31,445.30 L191.45,444.35 L191.58,443.36 L191.72,442.35 L191.86,441.30 L192.00,440.21 L192.14,439.09 L192.27,437.92 L192.41,436.72 L192.55,435.46 L192.69,434.16 L192.83,432.81 L192.96,431.40 L193.10,429.94 L193.24,428.41 L193.38,426.78 L193.51,425.02 L193.65,423.12 L193.79,421.12 L193.93,418.99 L194.07,416.77 L194.20,414.44 L194.34,412.03 L194.48,409.53 L194.62,406.96 L194.76,404.33 L194.89,401.63 L195.03,398.89 L195.17,396.10 L195.31,393.28 L195.45,390.44 L195.58,387.58 L195.72,384.69 L195.86,381.70 L196.00,378.60 L196.13,375.39 L196.27,372.09 L196.41,368.70 L196.55,365.20 L196.69,361.62 L196.82,357.94 L196.96,354.15 L197.10,350.55 L197.24,354.62 L197.38,358.70 L197.51,362.76 L197.65,366.78 L197.79,370.74 L197.93,374.64 L198.07,378.45 L198.20,382.17 L198.34,385.78 L198.48,389.30 L198.62,392.83 L198.75,396.37 L198.89,399.89 L199.03,403.38 L199.17,406.81 L199.31,410.16 L199.44,413.41 L199.58,416.55 L199.72,419.54 L199.86,422.37 L200.00,425.01 L200.13,427.44 L200.27,429.64 L200.41,431.71 L200.55,433.68 L200.69,435.56 L200.82,437.36 L200.96,439.07 L201.10,440.72 L201.24,442.29 L201.37,443.80 L201.51,445.26 L201.65,446.66 L201.79,448.01 L201.93,449.33 L202.06,450.61 L202.20,451.87 L202.34,453.10 L202.48,454.30 L202.62,455.47 L202.75,456.60 L202.89,457.69 L203.03,458.74 L203.17,459.74 L203.31,460.68 L203.44,461.58 L203.58,462.41 L203.72,463.19 L203.86,463.92 L204.00,464.63 L204.13,465.33 L204.27,466.01 L204.41,466.67 L204.55,467.32 L204.68,467.94 L204.82,468.55 L204.96,469.14 L205.10,469.71 L205.24,470.26 L205.37,470.79 L206.06,473.15 L206.75,475.01 L207.44,476.59 L208.13,477.96 L208.82,478.93 L209.51,479.78 L210.20,480.55 L210.89,481.26 L211.58,481.94 L212.27,482.59 L212.96,483.19 L213.65,483.75 L214.34,484.25 L215.03,484.69 L215.72,485.06 L216.41,485.38 L217.10,485.70 L217.79,486.01 L218.47,486.31 L219.16,486.59 L219.85,486.86 L220.54,487.11 L221.23,487.34 L221.92,487.55 L222.61,487.73 L223.30,487.90 L223.99,488.04 L224.68,488.16 L228.13,488.36 L231.57,488.02 L235.02,487.52 L238.47,487.04 L241.92,486.66 L245.37,486.43 L248.81,486.31 L252.26,486.27 L255.71,486.27 L259.16,486.28 L262.60,486.31 L266.05,486.33 L269.50,486.35 L272.95,486.37 L276.39,486.39 L279.84,486.40 L283.29,486.42 L286.74,486.43 L290.18,486.44 L293.63,486.45 L297.08,486.46 L300.52,486.46 L303.97,486.47 L307.42,486.47 L310.87,486.48 L314.31,486.48 L317.76,486.48 L318.45,486.48" fill="none" stroke="#d96b6b" stroke-width="1.1" stroke-opacity="1.0" stroke-linejoin="round"/><path d="M75.75,486.48 L76.44,486.48 L79.89,486.48 L83.33,486.48 L86.78,486.47 L90.23,486.47 L93.68,486.46 L97.12,486.46 L100.57,486.45 L104.02,486.44 L107.47,486.43 L110.91,486.42 L114.36,486.40 L117.81,486.39 L121.26,486.37 L124.70,486.35 L128.15,486.33 L131.60,486.31 L135.05,486.28 L138.49,486.27 L141.94,486.27 L145.39,486.31 L148.84,486.43 L152.28,486.66 L155.73,487.04 L159.18,487.52 L162.62,488.02 L166.07,488.36 L169.52,488.16 L170.21,488.04 L170.90,487.90 L171.59,487.73 L172.28,487.55 L172.97,487.34 L173.66,487.11 L174.35,486.86 L175.04,486.59 L175.73,486.31 L176.42,486.01 L177.10,485.70 L177.79,485.38 L178.48,485.06 L179.17,484.69 L179.86,484.25 L180.55,483.75 L181.24,483.19 L181.93,482.59 L182.62,481.94 L183.31,481.26 L184.00,480.55 L184.69,479.78 L185.38,478.93 L186.07,477.96 L186.76,476.59 L187.45,475.01 L188.14,473.15 L188.83,470.79 L188.96,470.26 L189.10,469.71 L189.24,469.14 L189.38,468.55 L189.52,467.94 L189.65,467.32 L189.79,466.67 L189.93,466.01 L190.07,465.33 L190.20,464.63 L190.34,463.92 L190.48,463.19 L190.62,462.41 L190.76,461.58 L190.89,460.68 L191.03,459.74 L191.17,458.74 L191.31,457.69 L191.45,456.60 L191.58,455.47 L191.72,454.30 L191.86,453.10 L192.00,451.87 L192.14,450.61 L192.27,449.33 L192.41,448.01 L192.55,446.66 L192.69,445.26 L192.83,443.80 L192.96,442.29 L193.10,440.72 L193.24,439.07 L193.38,437.36 L193.51,435.56 L193.65,433.68 L193.79,431.71 L193.93,429.64 L194.07,427.44 L194.20,425.01 L194.34,422.37 L194.48,419.54 L194.62,416.55 L194.76,413.41 L194.89,410.16 L195.03,406.81 L195.17,403.38 L195.31,399.89 L195.45,396.37 L195.58,392.83 L195.72,389.30 L195.86,385.78 L196.00,382.17 L196.13,378.45 L196.27,374.64 L196.41,370.74 L196.55,366.78 L196.69,362.76 L196.82,358.70 L196.96,354.62 L197.10,350.26 L197.24,354.15 L197.38,357.94 L197.51,361.62 L197.65,365.20 L197.79,368.70 L197.93,372.09 L198.07,375.39 L198.20,378.60 L198.34,381.70 L198.48,384.69 L198.62,387.58 L198.75,390.44 L198.89,393.28 L199.03,396.10 L199.17,398.89 L199.31,401.63 L199.44,404.33 L199.58,406.96 L199.72,409.53 L199.86,412.03 L200.00,414.44 L200.13,416.77 L200.27,418.99 L200.41,421.12 L200.55,423.12 L200.69,425.02 L200.82,426.78 L200.96,428.41 L201.10,429.94 L201.24,431.40 L201.37,432.81 L201.51,434.16 L201.65,435.46 L201.79,436.72 L201.93,437.92 L202.06,439.09 L202.20,440.21 L202.34,441.30 L202.48,442.35 L202.62,443.36 L202.75,444.35 L202.89,445.30 L203.03,446.23 L203.17,447.13 L203.31,448.01 L203.44,448.87 L203.58,449.71 L203.72,450.54 L203.86,451.35 L204.00,452.15 L204.13,452.93 L204.27,453.70 L204.41,454.45 L204.55,455.18 L204.68,455.89 L204.82,456.58 L204.96,457.25 L205.10,457.90 L205.24,458.53 L205.37,459.14 L206.06,461.83 L206.75,464.01 L207.44,465.97 L208.13,467.75 L208.82,469.93 L209.51,471.77 L210.20,473.27 L210.89,474.52 L211.58,475.63 L212.27,476.60 L212.96,477.46 L213.65,478.20 L214.34,478.85 L215.03,479.43 L215.72,479.99 L216.41,480.50 L217.10,480.97 L217.79,481.38 L218.47,481.74 L219.16,482.04 L219.85,482.27 L220.54,482.45 L221.23,482.64 L221.92,482.81 L222.61,482.98 L223.30,483.14 L223.99,483.29 L224.68,483.44 L228.13,484.04 L231.57,484.37 L235.02,484.43 L238.47,484.45 L241.92,484.52 L245.37,484.62 L248.81,484.75 L252.26,484.91 L255.71,485.08 L259.16,485.26 L262.60,485.44 L266.05,485.61 L269.50,485.77 L272.95,485.91 L276.39,486.04 L279.84,486.14 L283.29,486.22 L286.74,486.29 L290.18,486.34 L293.63,486.38 L297.08,486.41 L300.52,486.43 L303.97,486.45 L307.42,486.46 L310.87,486.47 L314.31,486.47 L317.76,486.48 L318.45,486.48" fill="none" stroke="#d96b6b" stroke-width="1.1" stroke-opacity="1.0" stroke-linejoin="round"/><path d="M75.75,520.83 L76.44,520.73 L79.89,520.23 L83.33,519.70 L86.78,519.15 L90.23,518.57 L93.68,517.96 L97.12,517.34 L100.57,516.69 L104.02,516.03 L107.47,515.36 L110.91,514.66 L114.36,513.96 L117.81,513.24 L121.26,512.49 L124.70,511.70 L128.15,510.86 L131.60,509.98 L135.05,509.04 L138.49,508.03 L141.94,506.96 L145.39,505.76 L148.84,504.44 L152.28,503.04 L155.73,501.56 L159.18,500.05 L162.62,498.51 L166.07,496.99 L169.52,495.36 L170.21,495.00 L170.90,494.62 L171.59,494.22 L172.28,493.80 L172.97,493.36 L173.66,492.89 L174.35,492.39 L175.04,491.86 L175.73,491.30 L176.42,490.72 L177.10,490.10 L177.79,489.45 L178.48,488.77 L179.17,488.05 L179.86,487.31 L180.55,486.56 L181.24,485.74 L181.93,484.83 L182.62,483.81 L183.31,482.62 L184.00,481.25 L184.69,479.43 L185.38,477.01 L186.07,474.09 L186.76,472.66 L187.45,471.10 L188.14,469.37 L188.83,467.37 L188.96,466.94 L189.10,466.49 L189.24,466.03 L189.38,465.55 L189.52,465.06 L189.65,464.55 L189.79,464.03 L189.93,463.50 L190.07,462.94 L190.20,462.37 L190.34,461.79 L190.48,461.18 L190.62,460.56 L190.76,459.91 L190.89,459.25 L191.03,458.57 L191.17,457.86 L191.31,457.14 L191.45,456.39 L191.58,455.62 L191.72,454.82 L191.86,454.00 L192.00,453.14 L192.14,452.24 L192.27,451.31 L192.41,450.33 L192.55,449.30 L192.69,448.22 L192.83,447.08 L192.96,445.88 L193.10,444.60 L193.24,443.26 L193.38,441.83 L193.51,440.32 L193.65,438.71 L193.79,437.01 L193.93,435.20 L194.07,433.24 L194.20,430.92 L194.34,428.22 L194.48,425.20 L194.62,421.89 L194.76,418.34 L194.89,414.60 L195.03,410.72 L195.17,406.76 L195.31,402.78 L195.45,398.84 L195.58,394.91 L195.72,390.72 L195.86,386.34 L196.00,381.89 L196.13,377.49 L196.27,373.25 L196.41,369.26 L196.55,365.36 L196.69,361.53 L196.82,357.78 L196.96,354.11 L197.10,350.50 L197.24,354.44 L197.38,358.76 L197.51,363.41 L197.65,368.37 L197.79,373.66 L197.93,379.56 L198.07,385.84 L198.20,392.18 L198.34,398.22 L198.48,404.28 L198.62,410.54 L198.75,416.75 L198.89,422.67 L199.03,428.01 L199.17,432.50 L199.31,436.01 L199.44,439.14 L199.58,442.01 L199.72,444.64 L199.86,447.06 L200.00,449.27 L200.13,451.32 L200.27,453.22 L200.41,455.01 L200.55,456.70 L200.69,458.32 L200.82,459.87 L200.96,461.35 L201.10,462.76 L201.24,464.10 L201.37,465.37 L201.51,466.58 L201.65,467.73 L201.79,468.82 L201.93,469.85 L202.06,470.83 L202.20,471.77 L202.34,472.69 L202.48,473.59 L202.62,474.46 L202.75,475.31 L202.89,476.13 L203.03,476.91 L203.17,477.66 L203.31,478.36 L203.44,479.03 L203.58,479.65 L203.72,480.22 L203.86,480.73 L204.00,481.20 L204.13,481.62 L204.27,482.02 L204.41,482.41 L204.55,482.78 L204.68,483.14 L204.82,483.49 L204.96,483.82 L205.10,484.13 L205.24,484.44 L205.37,484.74 L206.06,486.07 L206.75,487.25 L207.44,488.37 L208.13,489.45 L208.82,490.10 L209.51,490.72 L210.20,491.30 L210.89,491.86 L211.58,492.39 L212.27,492.89 L212.96,493.36 L213.65,493.80 L214.34,494.22 L215.03,494.62 L215.72,495.00 L216.41,495.36 L217.10,495.71 L217.79,496.05 L218.47,496.37 L219.16,496.69 L219.85,496.99 L220.54,497.30 L221.23,497.60 L221.92,497.90 L222.61,498.20 L223.30,498.51 L223.99,498.82 L224.68,499.13 L228.13,500.66 L231.57,502.16 L235.02,503.61 L238.47,504.98 L241.92,506.25 L245.37,507.40 L248.81,508.44 L252.26,509.42 L255.71,510.34 L259.16,511.20 L262.60,512.02 L266.05,512.80 L269.50,513.53 L272.95,514.24 L276.39,514.94 L279.84,515.63 L283.29,516.30 L286.74,516.95 L290.18,517.59 L293.63,518.21 L297.08,518.80 L300.52,519.37 L303.97,519.92 L307.42,520.43 L310.87,520.92 L314.31,521.38 L317.76,521.81 L318.45,521.89" fill="none" stroke="#222" stroke-width="0.9" stroke-opacity="1.0" stroke-linejoin="round"/><path d="M75.75,521.89 L76.44,521.81 L79.89,521.38 L83.33,520.92 L86.78,520.43 L90.23,519.92 L93.68,519.37 L97.12,518.80 L100.57,518.21 L104.02,517.59 L107.47,516.95 L110.91,516.30 L114.36,515.63 L117.81,514.94 L121.26,514.24 L124.70,513.53 L128.15,512.80 L131.60,512.02 L135.05,511.20 L138.49,510.34 L141.94,509.42 L145.39,508.44 L148.84,507.40 L152.28,506.25 L155.73,504.98 L159.18,503.61 L162.62,502.16 L166.07,500.66 L169.52,499.13 L170.21,498.82 L170.90,498.51 L171.59,498.20 L172.28,497.90 L172.97,497.60 L173.66,497.30 L174.35,496.99 L175.04,496.69 L175.73,496.37 L176.42,496.05 L177.10,495.71 L177.79,495.36 L178.48,495.00 L179.17,494.62 L179.86,494.22 L180.55,493.80 L181.24,493.36 L181.93,492.89 L182.62,492.39 L183.31,491.86 L184.00,491.30 L184.69,490.72 L185.38,490.10 L186.07,489.45 L186.76,488.37 L187.45,487.25 L188.14,486.07 L188.83,484.74 L188.96,484.44 L189.10,484.13 L189.24,483.82 L189.38,483.49 L189.52,483.14 L189.65,482.78 L189.79,482.41 L189.93,482.02 L190.07,481.62 L190.20,481.20 L190.34,480.73 L190.48,480.22 L190.62,479.65 L190.76,479.03 L190.89,478.36 L191.03,477.66 L191.17,476.91 L191.31,476.13 L191.45,475.31 L191.58,474.46 L191.72,473.59 L191.86,472.69 L192.00,471.77 L192.14,470.83 L192.27,469.85 L192.41,468.82 L192.55,467.73 L192.69,466.58 L192.83,465.37 L192.96,464.10 L193.10,462.76 L193.24,461.35 L193.38,459.87 L193.51,458.32 L193.65,456.70 L193.79,455.01 L193.93,453.22 L194.07,451.32 L194.20,449.27 L194.34,447.06 L194.48,444.64 L194.62,442.01 L194.76,439.14 L194.89,436.01 L195.03,432.50 L195.17,428.01 L195.31,422.67 L195.45,416.75 L195.58,410.54 L195.72,404.28 L195.86,398.22 L196.00,392.18 L196.13,385.84 L196.27,379.56 L196.41,373.66 L196.55,368.37 L196.69,363.41 L196.82,358.76 L196.96,354.44 L197.10,350.50 L197.24,354.11 L197.38,357.78 L197.51,361.53 L197.65,365.36 L197.79,369.26 L197.93,373.25 L198.07,377.49 L198.20,381.89 L198.34,386.34 L198.48,390.72 L198.62,394.91 L198.75,398.84 L198.89,402.78 L199.03,406.76 L199.17,410.72 L199.31,414.60 L199.44,418.34 L199.58,421.89 L199.72,425.20 L199.86,428.22 L200.00,430.92 L200.13,433.24 L200.27,435.20 L200.41,437.01 L200.55,438.71 L200.69,440.32 L200.82,441.83 L200.96,443.26 L201.10,444.60 L201.24,445.88 L201.37,447.08 L201.51,448.22 L201.65,449.30 L201.79,450.33 L201.93,451.31 L202.06,452.24 L202.20,453.14 L202.34,454.00 L202.48,454.82 L202.62,455.62 L202.75,456.39 L202.89,457.14 L203.03,457.86 L203.17,458.57 L203.31,459.25 L203.44,459.91 L203.58,460.56 L203.72,461.18 L203.86,461.79 L204.00,462.37 L204.13,462.94 L204.27,463.50 L204.41,464.03 L204.55,464.55 L204.68,465.06 L204.82,465.55 L204.96,466.03 L205.10,466.49 L205.24,466.94 L205.37,467.37 L206.06,469.37 L206.75,471.10 L207.44,472.66 L208.13,474.09 L208.82,477.01 L209.51,479.43 L210.20,481.25 L210.89,482.62 L211.58,483.81 L212.27,484.83 L212.96,485.74 L213.65,486.56 L214.34,487.31 L215.03,488.05 L215.72,488.77 L216.41,489.45 L217.10,490.10 L217.79,490.72 L218.47,491.30 L219.16,491.86 L219.85,492.39 L220.54,492.89 L221.23,493.36 L221.92,493.80 L222.61,494.22 L223.30,494.62 L223.99,495.00 L224.68,495.36 L228.13,496.99 L231.57,498.51 L235.02,500.05 L238.47,501.56 L241.92,503.04 L245.37,504.44 L248.81,505.76 L252.26,506.96 L255.71,508.03 L259.16,509.04 L262.60,509.98 L266.05,510.86 L269.50,511.70 L272.95,512.49 L276.39,513.24 L279.84,513.96 L283.29,514.66 L286.74,515.36 L290.18,516.03 L293.63,516.69 L297.08,517.34 L300.52,517.96 L303.97,518.57 L307.42,519.15 L310.87,519.70 L314.31,520.23 L317.76,520.73 L318.45,520.83" fill="none" stroke="#222" stroke-width="0.9" stroke-opacity="1.0" stroke-linejoin="round"/><g fill="#111"><circle cx="75.75" cy="520.83" r="1.6"/><circle cx="82.64" cy="519.81" r="1.6"/><circle cx="89.54" cy="518.68" r="1.6"/><circle cx="96.43" cy="517.46" r="1.6"/><circle cx="103.33" cy="516.17" r="1.6"/><circle cx="110.22" cy="514.80" r="1.6"/><circle cx="117.12" cy="513.39" r="1.6"/><circle cx="124.01" cy="511.86" r="1.6"/><circle cx="130.91" cy="510.16" r="1.6"/><circle cx="137.80" cy="508.24" r="1.6"/><circle cx="144.70" cy="506.01" r="1.6"/><circle cx="151.59" cy="503.33" r="1.6"/><circle cx="158.49" cy="500.35" r="1.6"/><circle cx="165.38" cy="497.30" r="1.6"/><circle cx="169.52" cy="495.36" r="1.6"/><circle cx="172.97" cy="493.36" r="1.6"/><circle cx="176.42" cy="490.72" r="1.6"/><circle cx="179.86" cy="487.31" r="1.6"/><circle cx="183.31" cy="482.62" r="1.6"/><circle cx="186.76" cy="472.66" r="1.6"/><circle cx="190.20" cy="462.37" r="1.6"/><circle cx="191.58" cy="455.62" r="1.6"/><circle cx="192.96" cy="445.88" r="1.6"/><circle cx="194.34" cy="428.22" r="1.6"/><circle cx="195.72" cy="390.72" r="1.6"/><circle cx="197.10" cy="350.50" r="1.6"/><circle cx="198.48" cy="404.28" r="1.6"/><circle cx="199.86" cy="447.06" r="1.6"/><circle cx="201.24" cy="464.10" r="1.6"/><circle cx="202.62" cy="474.46" r="1.6"/><circle cx="204.00" cy="481.20" r="1.6"/><circle cx="207.44" cy="488.37" r="1.6"/><circle cx="210.89" cy="491.86" r="1.6"/><circle cx="214.34" cy="494.22" r="1.6"/><circle cx="217.79" cy="496.05" r="1.6"/><circle cx="221.23" cy="497.60" r="1.6"/><circle cx="224.68" cy="499.13" r="1.6"/><circle cx="228.82" cy="500.96" r="1.6"/><circle cx="235.71" cy="503.89" r="1.6"/><circle cx="242.61" cy="506.49" r="1.6"/><circle cx="249.50" cy="508.64" r="1.6"/><circle cx="256.40" cy="510.52" r="1.6"/><circle cx="263.29" cy="512.18" r="1.6"/><circle cx="270.19" cy="513.68" r="1.6"/><circle cx="277.08" cy="515.08" r="1.6"/><circle cx="283.98" cy="516.43" r="1.6"/><circle cx="290.87" cy="517.71" r="1.6"/><circle cx="297.77" cy="518.92" r="1.6"/><circle cx="304.66" cy="520.02" r="1.6"/><circle cx="311.56" cy="521.02" r="1.6"/><circle cx="318.45" cy="521.89" r="1.6"/></g><g fill="#111"><circle cx="79.20" cy="521.47" r="1.6"/><circle cx="86.09" cy="520.53" r="1.6"/><circle cx="92.99" cy="519.48" r="1.6"/><circle cx="99.88" cy="518.33" r="1.6"/><circle cx="106.78" cy="517.08" r="1.6"/><circle cx="113.67" cy="515.76" r="1.6"/><circle cx="120.57" cy="514.38" r="1.6"/><circle cx="127.46" cy="512.95" r="1.6"/><circle cx="134.36" cy="511.37" r="1.6"/><circle cx="141.25" cy="509.61" r="1.6"/><circle cx="148.15" cy="507.61" r="1.6"/><circle cx="155.04" cy="505.25" r="1.6"/><circle cx="161.94" cy="502.46" r="1.6"/><circle cx="168.83" cy="499.43" r="1.6"/><circle cx="172.97" cy="497.60" r="1.6"/><circle cx="176.42" cy="496.05" r="1.6"/><circle cx="179.86" cy="494.22" r="1.6"/><circle cx="183.31" cy="491.86" r="1.6"/><circle cx="186.76" cy="488.37" r="1.6"/><circle cx="190.20" cy="481.20" r="1.6"/><circle cx="193.65" cy="456.70" r="1.6"/><circle cx="195.03" cy="432.50" r="1.6"/><circle cx="196.41" cy="373.66" r="1.6"/><circle cx="197.79" cy="369.26" r="1.6"/><circle cx="199.17" cy="410.72" r="1.6"/><circle cx="200.55" cy="438.71" r="1.6"/><circle cx="201.93" cy="451.31" r="1.6"/><circle cx="203.31" cy="459.25" r="1.6"/><circle cx="204.68" cy="465.06" r="1.6"/><circle cx="206.06" cy="469.37" r="1.6"/><circle cx="207.44" cy="472.66" r="1.6"/><circle cx="210.89" cy="482.62" r="1.6"/><circle cx="214.34" cy="487.31" r="1.6"/><circle cx="217.79" cy="490.72" r="1.6"/><circle cx="221.23" cy="493.36" r="1.6"/><circle cx="224.68" cy="495.36" r="1.6"/><circle cx="228.13" cy="496.99" r="1.6"/><circle cx="232.26" cy="498.82" r="1.6"/><circle cx="239.16" cy="501.86" r="1.6"/><circle cx="246.05" cy="504.72" r="1.6"/><circle cx="252.95" cy="507.18" r="1.6"/><circle cx="259.84" cy="509.23" r="1.6"/><circle cx="266.74" cy="511.04" r="1.6"/><circle cx="273.63" cy="512.64" r="1.6"/><circle cx="280.53" cy="514.10" r="1.6"/><circle cx="287.42" cy="515.49" r="1.6"/><circle cx="294.32" cy="516.82" r="1.6"/><circle cx="301.21" cy="518.08" r="1.6"/><circle cx="308.11" cy="519.26" r="1.6"/><circle cx="315.00" cy="520.33" r="1.6"/></g><text x="63.3" y="330.7" font-size="11.4" fill="#222" stroke="#222" stroke-width="0.3">chloride bath</text><text x="63.3" y="344.3" font-size="11.4" fill="#222" stroke="#222" stroke-width="0.3">sample 10</text><text transform="translate(26,431.4) rotate(-90)" font-size="12" fill="#222" text-anchor="middle" stroke="#222" stroke-width="0.3"><tspan font-style="italic">MR</tspan> (%)</text><text x="204.3" y="583.6" font-size="12" fill="#222" text-anchor="middle" stroke="#222" stroke-width="0.3"><tspan font-style="italic">H</tspan> (kOe)</text><text x="76" y="423.2" font-size="11.2" fill="#222" stroke="#222" stroke-width="0.3"><tspan font-style="italic">c</tspan><tspan font-size="8" dy="3.6">Fe/FeCo</tspan><tspan dy="-3.6">=&#160; 5%</tspan></text><text x="76" y="441.2" font-size="11.2" fill="#222" stroke="#222" stroke-width="0.3"><tspan font-style="italic">j</tspan> = -34.5 mA cm<tspan font-size="8" dy="-5">-2</tspan></text><text x="254" y="422.9" font-size="11.2" fill="#222" stroke="#222" stroke-width="0.3"><tspan font-style="italic">d</tspan><tspan font-size="8" dy="3">Cu</tspan><tspan dy="-3"> = 5 nm</tspan></text><text x="254" y="438.9" font-size="11.2" fill="#222" stroke="#222" stroke-width="0.3"><tspan font-style="italic">d</tspan><tspan font-size="8" dy="3">FeCo</tspan><tspan dy="-3"> = 5 nm</tspan></text><text x="293.7" y="375.7" font-size="9.5" fill="#5a5ab8" stroke="#5a5ab8" stroke-width="0.3"><tspan font-style="italic">LMR</tspan><tspan font-size="6.3" dy="2.5">SPM</tspan></text><text x="294" y="476.3" font-size="9.5" fill="#d47878" stroke="#d47878" stroke-width="0.3"><tspan font-style="italic">LMR</tspan><tspan font-size="6.3" dy="2.5">FM</tspan></text><text x="294.4" y="510.6" font-size="9.5" fill="#333" stroke="#333" stroke-width="0.3"><tspan font-style="italic">LMR</tspan><tspan font-size="6.3" dy="2.5">exp</tspan></text><g stroke="#4a4a4a" stroke-width="1.5" fill="none"><line x1="402" y1="324.07" x2="402" y2="552.32"/><line x1="402" y1="552.32" x2="685" y2="552.32"/><line x1="402" y1="346.9" x2="685" y2="346.9"/><line x1="543.5" y1="324.07" x2="543.5" y2="552.32" stroke-width="1.2"/><line x1="397" y1="346.9" x2="402" y2="346.9"/><line x1="397" y1="392.55" x2="402" y2="392.55"/><line x1="397" y1="438.2" x2="402" y2="438.2"/><line x1="397" y1="483.85" x2="402" y2="483.85"/><line x1="397" y1="529.5" x2="402" y2="529.5"/><line x1="399.5" y1="324.07" x2="402" y2="324.07"/><line x1="399.5" y1="369.72" x2="402" y2="369.72"/><line x1="399.5" y1="415.38" x2="402" y2="415.38"/><line x1="399.5" y1="461.02" x2="402" y2="461.02"/><line x1="399.5" y1="506.67" x2="402" y2="506.67"/><line x1="402" y1="552.32" x2="402" y2="557.32"/><line x1="430.3" y1="552.32" x2="430.3" y2="557.32"/><line x1="458.6" y1="552.32" x2="458.6" y2="557.32"/><line x1="486.9" y1="552.32" x2="486.9" y2="557.32"/><line x1="515.2" y1="552.32" x2="515.2" y2="557.32"/><line x1="543.5" y1="552.32" x2="543.5" y2="557.32"/><line x1="571.8" y1="552.32" x2="571.8" y2="557.32"/><line x1="600.1" y1="552.32" x2="600.1" y2="557.32"/><line x1="628.4" y1="552.32" x2="628.4" y2="557.32"/><line x1="656.7" y1="552.32" x2="656.7" y2="557.32"/><line x1="685" y1="552.32" x2="685" y2="557.32"/><line x1="416.15" y1="552.32" x2="416.15" y2="554.82"/><line x1="444.45" y1="552.32" x2="444.45" y2="554.82"/><line x1="472.75" y1="552.32" x2="472.75" y2="554.82"/><line x1="501.05" y1="552.32" x2="501.05" y2="554.82"/><line x1="529.35" y1="552.32" x2="529.35" y2="554.82"/><line x1="557.65" y1="552.32" x2="557.65" y2="554.82"/><line x1="585.95" y1="552.32" x2="585.95" y2="554.82"/><line x1="614.25" y1="552.32" x2="614.25" y2="554.82"/><line x1="642.55" y1="552.32" x2="642.55" y2="554.82"/><line x1="670.85" y1="552.32" x2="670.85" y2="554.82"/></g><g fill="#333" font-size="9.8" stroke="#333" stroke-width="0.3"><text x="395" y="350.5" text-anchor="end">0.0</text><text x="395" y="396.15" text-anchor="end">-0.5</text><text x="395" y="441.8" text-anchor="end">-1.0</text><text x="395" y="487.45" text-anchor="end">-1.5</text><text x="395" y="533.1" text-anchor="end">-2.0</text><text x="402" y="567.12" text-anchor="middle">-10</text><text x="430.3" y="567.12" text-anchor="middle">-8</text><text x="458.6" y="567.12" text-anchor="middle">-6</text><text x="486.9" y="567.12" text-anchor="middle">-4</text><text x="515.2" y="567.12" text-anchor="middle">-2</text><text x="543.5" y="567.12" text-anchor="middle">0</text><text x="571.8" y="567.12" text-anchor="middle">2</text><text x="600.1" y="567.12" text-anchor="middle">4</text><text x="628.4" y="567.12" text-anchor="middle">6</text><text x="656.7" y="567.12" text-anchor="middle">8</text><text x="685" y="567.12" text-anchor="middle">10</text></g><path d="M417.56,382.03 L419.69,381.75 L423.23,381.27 L426.76,380.77 L430.30,380.25 L433.84,379.71 L437.38,379.15 L440.91,378.57 L444.45,377.96 L447.99,377.33 L451.52,376.68 L455.06,376.00 L458.60,375.29 L462.14,374.56 L465.68,373.80 L469.21,373.00 L472.75,372.18 L476.29,371.33 L479.82,370.44 L483.36,369.51 L486.90,368.55 L490.44,367.55 L493.98,366.51 L497.51,365.44 L501.05,364.32 L504.59,363.15 L508.12,361.94 L511.66,360.68 L515.20,359.38 L515.91,359.11 L516.62,358.84 L517.32,358.57 L518.03,358.30 L518.74,358.02 L519.44,357.74 L520.15,357.46 L520.86,357.18 L521.57,356.90 L522.27,356.61 L522.98,356.32 L523.69,356.03 L524.40,355.74 L525.11,355.44 L525.81,355.14 L526.52,354.84 L527.23,354.54 L527.93,354.23 L528.64,353.93 L529.35,353.62 L530.06,353.31 L530.76,352.99 L531.47,352.67 L532.18,352.36 L532.89,352.03 L533.60,351.71 L534.30,351.38 L535.01,351.05 L535.15,350.99 L535.29,350.92 L535.43,350.86 L535.58,350.79 L535.72,350.72 L535.86,350.66 L536.00,350.59 L536.14,350.52 L536.28,350.46 L536.42,350.39 L536.57,350.32 L536.71,350.25 L536.85,350.19 L536.99,350.12 L537.13,350.05 L537.27,349.98 L537.42,349.92 L537.56,349.85 L537.70,349.78 L537.84,349.71 L537.98,349.64 L538.12,349.58 L538.26,349.51 L538.41,349.44 L538.55,349.37 L538.69,349.30 L538.83,349.23 L538.97,349.16 L539.11,349.09 L539.25,349.02 L539.40,348.96 L539.54,348.89 L539.68,348.82 L539.82,348.75 L539.96,348.68 L540.10,348.61 L540.25,348.54 L540.39,348.47 L540.53,348.40 L540.67,348.33 L540.81,348.26 L540.95,348.19 L541.09,348.12 L541.24,348.05 L541.38,347.97 L541.52,347.90 L541.66,347.83 L541.80,347.76 L541.94,347.69 L542.09,347.62 L542.23,347.55 L542.37,347.48 L542.51,347.40 L542.65,347.33 L542.79,347.26 L542.93,347.19 L543.08,347.12 L543.22,347.04 L543.36,346.97 L543.50,346.90 L543.64,346.97 L543.78,347.04 L543.92,347.12 L544.07,347.19 L544.21,347.26 L544.35,347.33 L544.49,347.40 L544.63,347.48 L544.77,347.55 L544.91,347.62 L545.06,347.69 L545.20,347.76 L545.34,347.83 L545.48,347.90 L545.62,347.97 L545.76,348.05 L545.91,348.12 L546.05,348.19 L546.19,348.26 L546.33,348.33 L546.47,348.40 L546.61,348.47 L546.75,348.54 L546.90,348.61 L547.04,348.68 L547.18,348.75 L547.32,348.82 L547.46,348.89 L547.60,348.96 L547.75,349.02 L547.89,349.09 L548.03,349.16 L548.17,349.23 L548.31,349.30 L548.45,349.37 L548.59,349.44 L548.74,349.51 L548.88,349.58 L549.02,349.64 L549.16,349.71 L549.30,349.78 L549.44,349.85 L549.58,349.92 L549.73,349.98 L549.87,350.05 L550.01,350.12 L550.15,350.19 L550.29,350.25 L550.43,350.32 L550.58,350.39 L550.72,350.46 L550.86,350.52 L551.00,350.59 L551.14,350.66 L551.28,350.72 L551.42,350.79 L551.57,350.86 L551.71,350.92 L551.85,350.99 L551.99,351.05 L552.70,351.38 L553.40,351.71 L554.11,352.03 L554.82,352.36 L555.53,352.67 L556.24,352.99 L556.94,353.31 L557.65,353.62 L558.36,353.93 L559.07,354.23 L559.77,354.54 L560.48,354.84 L561.19,355.14 L561.89,355.44 L562.60,355.74 L563.31,356.03 L564.02,356.32 L564.73,356.61 L565.43,356.90 L566.14,357.18 L566.85,357.46 L567.56,357.74 L568.26,358.02 L568.97,358.30 L569.68,358.57 L570.38,358.84 L571.09,359.11 L571.80,359.38 L575.34,360.68 L578.88,361.94 L582.41,363.15 L585.95,364.32 L589.49,365.44 L593.02,366.51 L596.56,367.55 L600.10,368.55 L603.64,369.51 L607.17,370.44 L610.71,371.33 L614.25,372.18 L617.79,373.00 L621.33,373.80 L624.86,374.56 L628.40,375.29 L631.94,376.00 L635.48,376.68 L639.01,377.33 L642.55,377.96 L646.09,378.57 L649.62,379.15 L653.16,379.71 L656.70,380.25 L660.24,380.77 L663.77,381.27 L667.31,381.75 L669.43,382.03" fill="none" stroke="#e9d9a8" stroke-width="1.3" stroke-opacity="1.0" stroke-linejoin="round"/><path d="M417.56,382.03 L419.69,381.75 L423.23,381.27 L426.76,380.77 L430.30,380.25 L433.84,379.71 L437.38,379.15 L440.91,378.57 L444.45,377.96 L447.99,377.33 L451.52,376.68 L455.06,376.00 L458.60,375.29 L462.14,374.56 L465.68,373.80 L469.21,373.00 L472.75,372.18 L476.29,371.33 L479.82,370.44 L483.36,369.51 L486.90,368.55 L490.44,367.55 L493.98,366.51 L497.51,365.44 L501.05,364.32 L504.59,363.15 L508.12,361.94 L511.66,360.68 L515.20,359.38 L515.91,359.11 L516.62,358.84 L517.32,358.57 L518.03,358.30 L518.74,358.02 L519.44,357.74 L520.15,357.46 L520.86,357.18 L521.57,356.90 L522.27,356.61 L522.98,356.32 L523.69,356.03 L524.40,355.74 L525.11,355.44 L525.81,355.14 L526.52,354.84 L527.23,354.54 L527.93,354.23 L528.64,353.93 L529.35,353.62 L530.06,353.31 L530.76,352.99 L531.47,352.67 L532.18,352.36 L532.89,352.03 L533.60,351.71 L534.30,351.38 L535.01,351.05 L535.15,350.99 L535.29,350.92 L535.43,350.86 L535.58,350.79 L535.72,350.72 L535.86,350.66 L536.00,350.59 L536.14,350.52 L536.28,350.46 L536.42,350.39 L536.57,350.32 L536.71,350.25 L536.85,350.19 L536.99,350.12 L537.13,350.05 L537.27,349.98 L537.42,349.92 L537.56,349.85 L537.70,349.78 L537.84,349.71 L537.98,349.64 L538.12,349.58 L538.26,349.51 L538.41,349.44 L538.55,349.37 L538.69,349.30 L538.83,349.23 L538.97,349.16 L539.11,349.09 L539.25,349.02 L539.40,348.96 L539.54,348.89 L539.68,348.82 L539.82,348.75 L539.96,348.68 L540.10,348.61 L540.25,348.54 L540.39,348.47 L540.53,348.40 L540.67,348.33 L540.81,348.26 L540.95,348.19 L541.09,348.12 L541.24,348.05 L541.38,347.97 L541.52,347.90 L541.66,347.83 L541.80,347.76 L541.94,347.69 L542.09,347.62 L542.23,347.55 L542.37,347.48 L542.51,347.40 L542.65,347.33 L542.79,347.26 L542.93,347.19 L543.08,347.12 L543.22,347.04 L543.36,346.97 L543.50,346.90 L543.64,346.97 L543.78,347.04 L543.92,347.12 L544.07,347.19 L544.21,347.26 L544.35,347.33 L544.49,347.40 L544.63,347.48 L544.77,347.55 L544.91,347.62 L545.06,347.69 L545.20,347.76 L545.34,347.83 L545.48,347.90 L545.62,347.97 L545.76,348.05 L545.91,348.12 L546.05,348.19 L546.19,348.26 L546.33,348.33 L546.47,348.40 L546.61,348.47 L546.75,348.54 L546.90,348.61 L547.04,348.68 L547.18,348.75 L547.32,348.82 L547.46,348.89 L547.60,348.96 L547.75,349.02 L547.89,349.09 L548.03,349.16 L548.17,349.23 L548.31,349.30 L548.45,349.37 L548.59,349.44 L548.74,349.51 L548.88,349.58 L549.02,349.64 L549.16,349.71 L549.30,349.78 L549.44,349.85 L549.58,349.92 L549.73,349.98 L549.87,350.05 L550.01,350.12 L550.15,350.19 L550.29,350.25 L550.43,350.32 L550.58,350.39 L550.72,350.46 L550.86,350.52 L551.00,350.59 L551.14,350.66 L551.28,350.72 L551.42,350.79 L551.57,350.86 L551.71,350.92 L551.85,350.99 L551.99,351.05 L552.70,351.38 L553.40,351.71 L554.11,352.03 L554.82,352.36 L555.53,352.67 L556.24,352.99 L556.94,353.31 L557.65,353.62 L558.36,353.93 L559.07,354.23 L559.77,354.54 L560.48,354.84 L561.19,355.14 L561.89,355.44 L562.60,355.74 L563.31,356.03 L564.02,356.32 L564.73,356.61 L565.43,356.90 L566.14,357.18 L566.85,357.46 L567.56,357.74 L568.26,358.02 L568.97,358.30 L569.68,358.57 L570.38,358.84 L571.09,359.11 L571.80,359.38 L575.34,360.68 L578.88,361.94 L582.41,363.15 L585.95,364.32 L589.49,365.44 L593.02,366.51 L596.56,367.55 L600.10,368.55 L603.64,369.51 L607.17,370.44 L610.71,371.33 L614.25,372.18 L617.79,373.00 L621.33,373.80 L624.86,374.56 L628.40,375.29 L631.94,376.00 L635.48,376.68 L639.01,377.33 L642.55,377.96 L646.09,378.57 L649.62,379.15 L653.16,379.71 L656.70,380.25 L660.24,380.77 L663.77,381.27 L667.31,381.75 L669.43,382.03" fill="none" stroke="#e9d9a8" stroke-width="1.3" stroke-opacity="1.0" stroke-linejoin="round"/><path d="M417.56,497.09 L419.69,497.08 L423.23,497.07 L426.76,497.05 L430.30,497.03 L433.84,497.00 L437.38,496.97 L440.91,496.93 L444.45,496.88 L447.99,496.83 L451.52,496.77 L455.06,496.71 L458.60,496.64 L462.14,496.57 L465.68,496.50 L469.21,496.41 L472.75,496.33 L476.29,496.24 L479.82,496.14 L483.36,496.01 L486.90,495.83 L490.44,495.61 L493.98,495.33 L497.51,495.00 L501.05,494.62 L504.59,494.19 L508.12,493.69 L511.66,493.14 L515.20,492.48 L515.91,492.32 L516.62,492.14 L517.32,491.94 L518.03,491.73 L518.74,491.50 L519.44,491.25 L520.15,490.98 L520.86,490.68 L521.57,490.36 L522.27,490.02 L522.98,489.65 L523.69,489.26 L524.40,488.83 L525.11,488.38 L525.81,487.89 L526.52,487.37 L527.23,486.82 L527.93,486.19 L528.64,485.28 L529.35,484.08 L530.06,482.57 L530.76,480.74 L531.47,478.58 L532.18,476.07 L532.89,473.67 L533.60,470.65 L534.30,465.13 L535.01,460.52 L535.15,459.71 L535.29,458.91 L535.43,458.12 L535.58,457.34 L535.72,456.55 L535.86,455.76 L536.00,454.94 L536.14,454.09 L536.28,453.21 L536.42,452.29 L536.57,451.32 L536.71,450.29 L536.85,449.20 L536.99,448.04 L537.13,446.78 L537.27,445.36 L537.42,443.77 L537.56,442.03 L537.70,440.17 L537.84,438.21 L537.98,436.17 L538.12,434.08 L538.26,431.96 L538.41,429.83 L538.55,427.72 L538.69,425.64 L538.83,423.64 L538.97,421.72 L539.11,419.88 L539.25,418.09 L539.40,416.34 L539.54,414.60 L539.68,412.86 L539.82,411.11 L539.96,409.32 L540.10,407.49 L540.25,405.58 L540.39,403.60 L540.53,401.50 L540.67,399.24 L540.81,396.81 L540.95,394.23 L541.09,391.56 L541.24,388.82 L541.38,386.07 L541.52,383.34 L541.66,380.68 L541.80,378.12 L541.94,375.70 L542.09,373.47 L542.23,371.32 L542.37,369.20 L542.51,367.14 L542.65,365.12 L542.79,363.15 L542.93,361.24 L543.08,359.39 L543.22,357.60 L543.36,355.87 L543.50,354.20 L543.64,355.91 L543.78,357.71 L543.92,359.61 L544.07,361.59 L544.21,363.66 L544.35,365.80 L544.49,368.03 L544.63,370.32 L544.77,372.68 L544.91,375.12 L545.06,377.78 L545.20,380.64 L545.34,383.66 L545.48,386.76 L545.62,389.90 L545.76,393.00 L545.91,396.01 L546.05,398.87 L546.19,401.51 L546.33,403.93 L546.47,406.23 L546.61,408.43 L546.75,410.56 L546.90,412.64 L547.04,414.70 L547.18,416.77 L547.32,418.88 L547.46,421.06 L547.60,423.34 L547.75,425.77 L547.89,428.29 L548.03,430.87 L548.17,433.47 L548.31,436.04 L548.45,438.53 L548.59,440.92 L548.74,443.14 L548.88,445.16 L549.02,446.93 L549.16,448.46 L549.30,449.87 L549.44,451.18 L549.58,452.40 L549.73,453.55 L549.87,454.64 L550.01,455.69 L550.15,456.70 L550.29,457.70 L550.43,458.71 L550.58,459.72 L550.72,460.77 L550.86,461.87 L551.00,463.02 L551.14,464.26 L551.28,465.68 L551.42,467.19 L551.57,468.69 L551.71,470.08 L551.85,471.26 L551.99,472.11 L552.70,475.46 L553.40,478.36 L554.11,480.84 L554.82,482.90 L555.53,484.35 L556.24,485.49 L556.94,486.33 L557.65,486.93 L558.36,487.48 L559.07,487.99 L559.77,488.47 L560.48,488.92 L561.19,489.34 L561.89,489.73 L562.60,490.09 L563.31,490.43 L564.02,490.74 L564.73,491.03 L565.43,491.30 L566.14,491.55 L566.85,491.77 L567.56,491.98 L568.26,492.18 L568.97,492.35 L569.68,492.52 L570.38,492.67 L571.09,492.80 L571.80,492.93 L575.34,493.50 L578.88,494.02 L582.41,494.47 L585.95,494.87 L589.49,495.22 L593.02,495.51 L596.56,495.76 L600.10,495.95 L603.64,496.10 L607.17,496.21 L610.71,496.30 L614.25,496.38 L617.79,496.47 L621.33,496.55 L624.86,496.62 L628.40,496.69 L631.94,496.75 L635.48,496.81 L639.01,496.86 L642.55,496.91 L646.09,496.95 L649.62,496.99 L653.16,497.02 L656.70,497.05 L660.24,497.07 L663.77,497.08 L667.31,497.09 L669.43,497.09" fill="none" stroke="#4aa3a8" stroke-width="1.1" stroke-opacity="1.0" stroke-linejoin="round"/><path d="M417.56,497.09 L419.69,497.09 L423.23,497.08 L426.76,497.07 L430.30,497.05 L433.84,497.02 L437.38,496.99 L440.91,496.95 L444.45,496.91 L447.99,496.86 L451.52,496.81 L455.06,496.75 L458.60,496.69 L462.14,496.62 L465.68,496.55 L469.21,496.47 L472.75,496.38 L476.29,496.30 L479.82,496.21 L483.36,496.10 L486.90,495.95 L490.44,495.76 L493.98,495.51 L497.51,495.22 L501.05,494.87 L504.59,494.47 L508.12,494.02 L511.66,493.50 L515.20,492.93 L515.91,492.80 L516.62,492.67 L517.32,492.52 L518.03,492.35 L518.74,492.18 L519.44,491.98 L520.15,491.77 L520.86,491.55 L521.57,491.30 L522.27,491.03 L522.98,490.74 L523.69,490.43 L524.40,490.09 L525.11,489.73 L525.81,489.34 L526.52,488.92 L527.23,488.47 L527.93,487.99 L528.64,487.48 L529.35,486.93 L530.06,486.33 L530.76,485.49 L531.47,484.35 L532.18,482.90 L532.89,480.84 L533.60,478.36 L534.30,475.46 L535.01,472.11 L535.15,471.26 L535.29,470.08 L535.43,468.69 L535.58,467.19 L535.72,465.68 L535.86,464.26 L536.00,463.02 L536.14,461.87 L536.28,460.77 L536.42,459.72 L536.57,458.71 L536.71,457.70 L536.85,456.70 L536.99,455.69 L537.13,454.64 L537.27,453.55 L537.42,452.40 L537.56,451.18 L537.70,449.87 L537.84,448.46 L537.98,446.93 L538.12,445.16 L538.26,443.14 L538.41,440.92 L538.55,438.53 L538.69,436.04 L538.83,433.47 L538.97,430.87 L539.11,428.29 L539.25,425.77 L539.40,423.34 L539.54,421.06 L539.68,418.88 L539.82,416.77 L539.96,414.70 L540.10,412.64 L540.25,410.56 L540.39,408.43 L540.53,406.23 L540.67,403.93 L540.81,401.51 L540.95,398.87 L541.09,396.01 L541.24,393.00 L541.38,389.90 L541.52,386.76 L541.66,383.66 L541.80,380.64 L541.94,377.78 L542.09,375.12 L542.23,372.68 L542.37,370.32 L542.51,368.03 L542.65,365.80 L542.79,363.66 L542.93,361.59 L543.08,359.61 L543.22,357.71 L543.36,355.91 L543.50,354.20 L543.64,355.87 L543.78,357.60 L543.92,359.39 L544.07,361.24 L544.21,363.15 L544.35,365.12 L544.49,367.14 L544.63,369.20 L544.77,371.32 L544.91,373.47 L545.06,375.70 L545.20,378.12 L545.34,380.68 L545.48,383.34 L545.62,386.07 L545.76,388.82 L545.91,391.56 L546.05,394.23 L546.19,396.81 L546.33,399.24 L546.47,401.50 L546.61,403.60 L546.75,405.58 L546.90,407.49 L547.04,409.32 L547.18,411.11 L547.32,412.86 L547.46,414.60 L547.60,416.34 L547.75,418.09 L547.89,419.88 L548.03,421.72 L548.17,423.64 L548.31,425.64 L548.45,427.72 L548.59,429.83 L548.74,431.96 L548.88,434.08 L549.02,436.17 L549.16,438.21 L549.30,440.17 L549.44,442.03 L549.58,443.77 L549.73,445.36 L549.87,446.78 L550.01,448.04 L550.15,449.20 L550.29,450.29 L550.43,451.32 L550.58,452.29 L550.72,453.21 L550.86,454.09 L551.00,454.94 L551.14,455.76 L551.28,456.55 L551.42,457.34 L551.57,458.12 L551.71,458.91 L551.85,459.71 L551.99,460.52 L552.70,465.13 L553.40,470.65 L554.11,473.67 L554.82,476.07 L555.53,478.58 L556.24,480.74 L556.94,482.57 L557.65,484.08 L558.36,485.28 L559.07,486.19 L559.77,486.82 L560.48,487.37 L561.19,487.89 L561.89,488.38 L562.60,488.83 L563.31,489.26 L564.02,489.65 L564.73,490.02 L565.43,490.36 L566.14,490.68 L566.85,490.98 L567.56,491.25 L568.26,491.50 L568.97,491.73 L569.68,491.94 L570.38,492.14 L571.09,492.32 L571.80,492.48 L575.34,493.14 L578.88,493.69 L582.41,494.19 L585.95,494.62 L589.49,495.00 L593.02,495.33 L596.56,495.61 L600.10,495.83 L603.64,496.01 L607.17,496.14 L610.71,496.24 L614.25,496.33 L617.79,496.41 L621.33,496.50 L624.86,496.57 L628.40,496.64 L631.94,496.71 L635.48,496.77 L639.01,496.83 L642.55,496.88 L646.09,496.93 L649.62,496.97 L653.16,497.00 L656.70,497.03 L660.24,497.05 L663.77,497.07 L667.31,497.08 L669.43,497.09" fill="none" stroke="#4aa3a8" stroke-width="1.1" stroke-opacity="1.0" stroke-linejoin="round"/><g fill="#505050"><circle cx="417.56" cy="530.19" r="1.25"/><circle cx="426.06" cy="529.20" r="1.25"/><circle cx="434.55" cy="528.07" r="1.25"/><circle cx="443.04" cy="526.83" r="1.25"/><circle cx="451.52" cy="525.51" r="1.25"/><circle cx="460.01" cy="524.01" r="1.25"/><circle cx="468.50" cy="522.34" r="1.25"/><circle cx="477.00" cy="520.57" r="1.25"/><circle cx="485.49" cy="518.59" r="1.25"/><circle cx="493.98" cy="516.14" r="1.25"/><circle cx="502.47" cy="513.12" r="1.25"/><circle cx="510.95" cy="509.29" r="1.25"/><circle cx="519.45" cy="503.96" r="1.25"/><circle cx="527.94" cy="492.93" r="1.25"/><circle cx="529.35" cy="490.24" r="1.25"/><circle cx="531.47" cy="485.49" r="1.25"/><circle cx="533.60" cy="479.70" r="1.25"/><circle cx="535.72" cy="471.17" r="1.25"/><circle cx="537.84" cy="445.00" r="1.25"/><circle cx="541.38" cy="388.98" r="1.25"/><circle cx="543.50" cy="351.46" r="1.25"/><circle cx="545.62" cy="392.09" r="1.25"/><circle cx="549.16" cy="453.53" r="1.25"/><circle cx="551.28" cy="476.26" r="1.25"/><circle cx="553.40" cy="484.07" r="1.25"/><circle cx="555.53" cy="489.74" r="1.25"/><circle cx="557.65" cy="493.99" r="1.25"/><circle cx="559.07" cy="496.57" r="1.25"/><circle cx="567.56" cy="506.58" r="1.25"/><circle cx="576.05" cy="511.88" r="1.25"/><circle cx="584.54" cy="515.90" r="1.25"/><circle cx="593.02" cy="518.87" r="1.25"/><circle cx="601.51" cy="521.23" r="1.25"/><circle cx="610.00" cy="523.16" r="1.25"/><circle cx="618.50" cy="524.91" r="1.25"/><circle cx="626.99" cy="526.55" r="1.25"/><circle cx="635.48" cy="528.02" r="1.25"/><circle cx="643.97" cy="529.33" r="1.25"/><circle cx="652.45" cy="530.55" r="1.25"/><circle cx="660.95" cy="531.66" r="1.25"/><circle cx="669.43" cy="532.62" r="1.25"/></g><g fill="#505050"><circle cx="421.81" cy="529.88" r="1.25"/><circle cx="430.30" cy="528.84" r="1.25"/><circle cx="438.79" cy="527.67" r="1.25"/><circle cx="447.28" cy="526.40" r="1.25"/><circle cx="455.77" cy="525.03" r="1.25"/><circle cx="464.26" cy="523.47" r="1.25"/><circle cx="472.75" cy="521.76" r="1.25"/><circle cx="481.24" cy="519.95" r="1.25"/><circle cx="489.73" cy="517.83" r="1.25"/><circle cx="498.22" cy="515.21" r="1.25"/><circle cx="506.71" cy="511.94" r="1.25"/><circle cx="515.20" cy="507.78" r="1.25"/><circle cx="523.69" cy="501.40" r="1.25"/><circle cx="532.18" cy="487.22" r="1.25"/><circle cx="533.60" cy="483.24" r="1.25"/><circle cx="535.72" cy="475.56" r="1.25"/><circle cx="537.84" cy="452.97" r="1.25"/><circle cx="539.96" cy="419.56" r="1.25"/><circle cx="542.09" cy="374.89" r="1.25"/><circle cx="545.62" cy="388.73" r="1.25"/><circle cx="547.75" cy="425.08" r="1.25"/><circle cx="549.87" cy="454.90" r="1.25"/><circle cx="553.40" cy="478.97" r="1.25"/><circle cx="555.53" cy="484.66" r="1.25"/><circle cx="557.65" cy="489.31" r="1.25"/><circle cx="559.77" cy="493.18" r="1.25"/><circle cx="561.89" cy="496.59" r="1.25"/><circle cx="563.31" cy="498.54" r="1.25"/><circle cx="571.80" cy="505.44" r="1.25"/><circle cx="580.29" cy="509.50" r="1.25"/><circle cx="588.78" cy="512.71" r="1.25"/><circle cx="597.27" cy="515.42" r="1.25"/><circle cx="605.76" cy="517.62" r="1.25"/><circle cx="614.25" cy="519.46" r="1.25"/><circle cx="622.74" cy="521.18" r="1.25"/><circle cx="631.23" cy="522.77" r="1.25"/><circle cx="639.72" cy="524.17" r="1.25"/><circle cx="648.21" cy="525.45" r="1.25"/><circle cx="656.70" cy="526.64" r="1.25"/><circle cx="665.19" cy="527.70" r="1.25"/></g><text x="406" y="323.6" font-size="11.6" fill="#222" stroke="#222" stroke-width="0.3">chloride bath</text><text x="406" y="338.3" font-size="11.6" fill="#222" stroke="#222" stroke-width="0.3">sample 12</text><text transform="translate(374,437.7) rotate(-90)" font-size="12" fill="#222" text-anchor="middle" stroke="#222" stroke-width="0.3"><tspan font-style="italic">MR</tspan> (%)</text><text x="543.6" y="584.7" font-size="12" fill="#222" text-anchor="middle" stroke="#222" stroke-width="0.3"><tspan font-style="italic">H</tspan> (kOe)</text><text x="420.5" y="415" font-size="11.6" fill="#222" stroke="#222" stroke-width="0.3"><tspan font-style="italic">c</tspan><tspan font-size="8.2" dy="3.6">Fe/FeCo</tspan><tspan dy="-3.6">=&#160; 20 mol%</tspan></text><text x="420.5" y="433" font-size="11.6" fill="#222" stroke="#222" stroke-width="0.3"><tspan font-style="italic">j</tspan> = -34.45 mA cm<tspan font-size="8.2" dy="-5">-2</tspan></text><text x="592.5" y="420" font-size="11.6" fill="#222" stroke="#222" stroke-width="0.3"><tspan font-style="italic">d</tspan><tspan font-size="8.2" dy="3">Cu</tspan><tspan dy="-3"> = 5 nm</tspan></text><text x="592.5" y="436.9" font-size="11.6" fill="#222" stroke="#222" stroke-width="0.3"><tspan font-style="italic">d</tspan><tspan font-size="8.2" dy="3">FeCo</tspan><tspan dy="-3"> = 5 nm</tspan></text><text x="637.9" y="393.6" font-size="9.5" fill="#e6d6a6" stroke="#e6d6a6" stroke-width="0.3"><tspan font-style="italic">TMR</tspan><tspan font-size="6.3" dy="2.5">SPM</tspan></text><text x="641" y="488" font-size="9.5" fill="#3f9ea3" stroke="#3f9ea3" stroke-width="0.3"><tspan font-style="italic">TMR</tspan><tspan font-size="6.3" dy="2.5">FM</tspan></text><text x="642" y="520.3" font-size="9.5" fill="#333" stroke="#333" stroke-width="0.3"><tspan font-style="italic">TMR</tspan><tspan font-size="6.3" dy="2.5">exp</tspan></text>
</svg></body></html>
